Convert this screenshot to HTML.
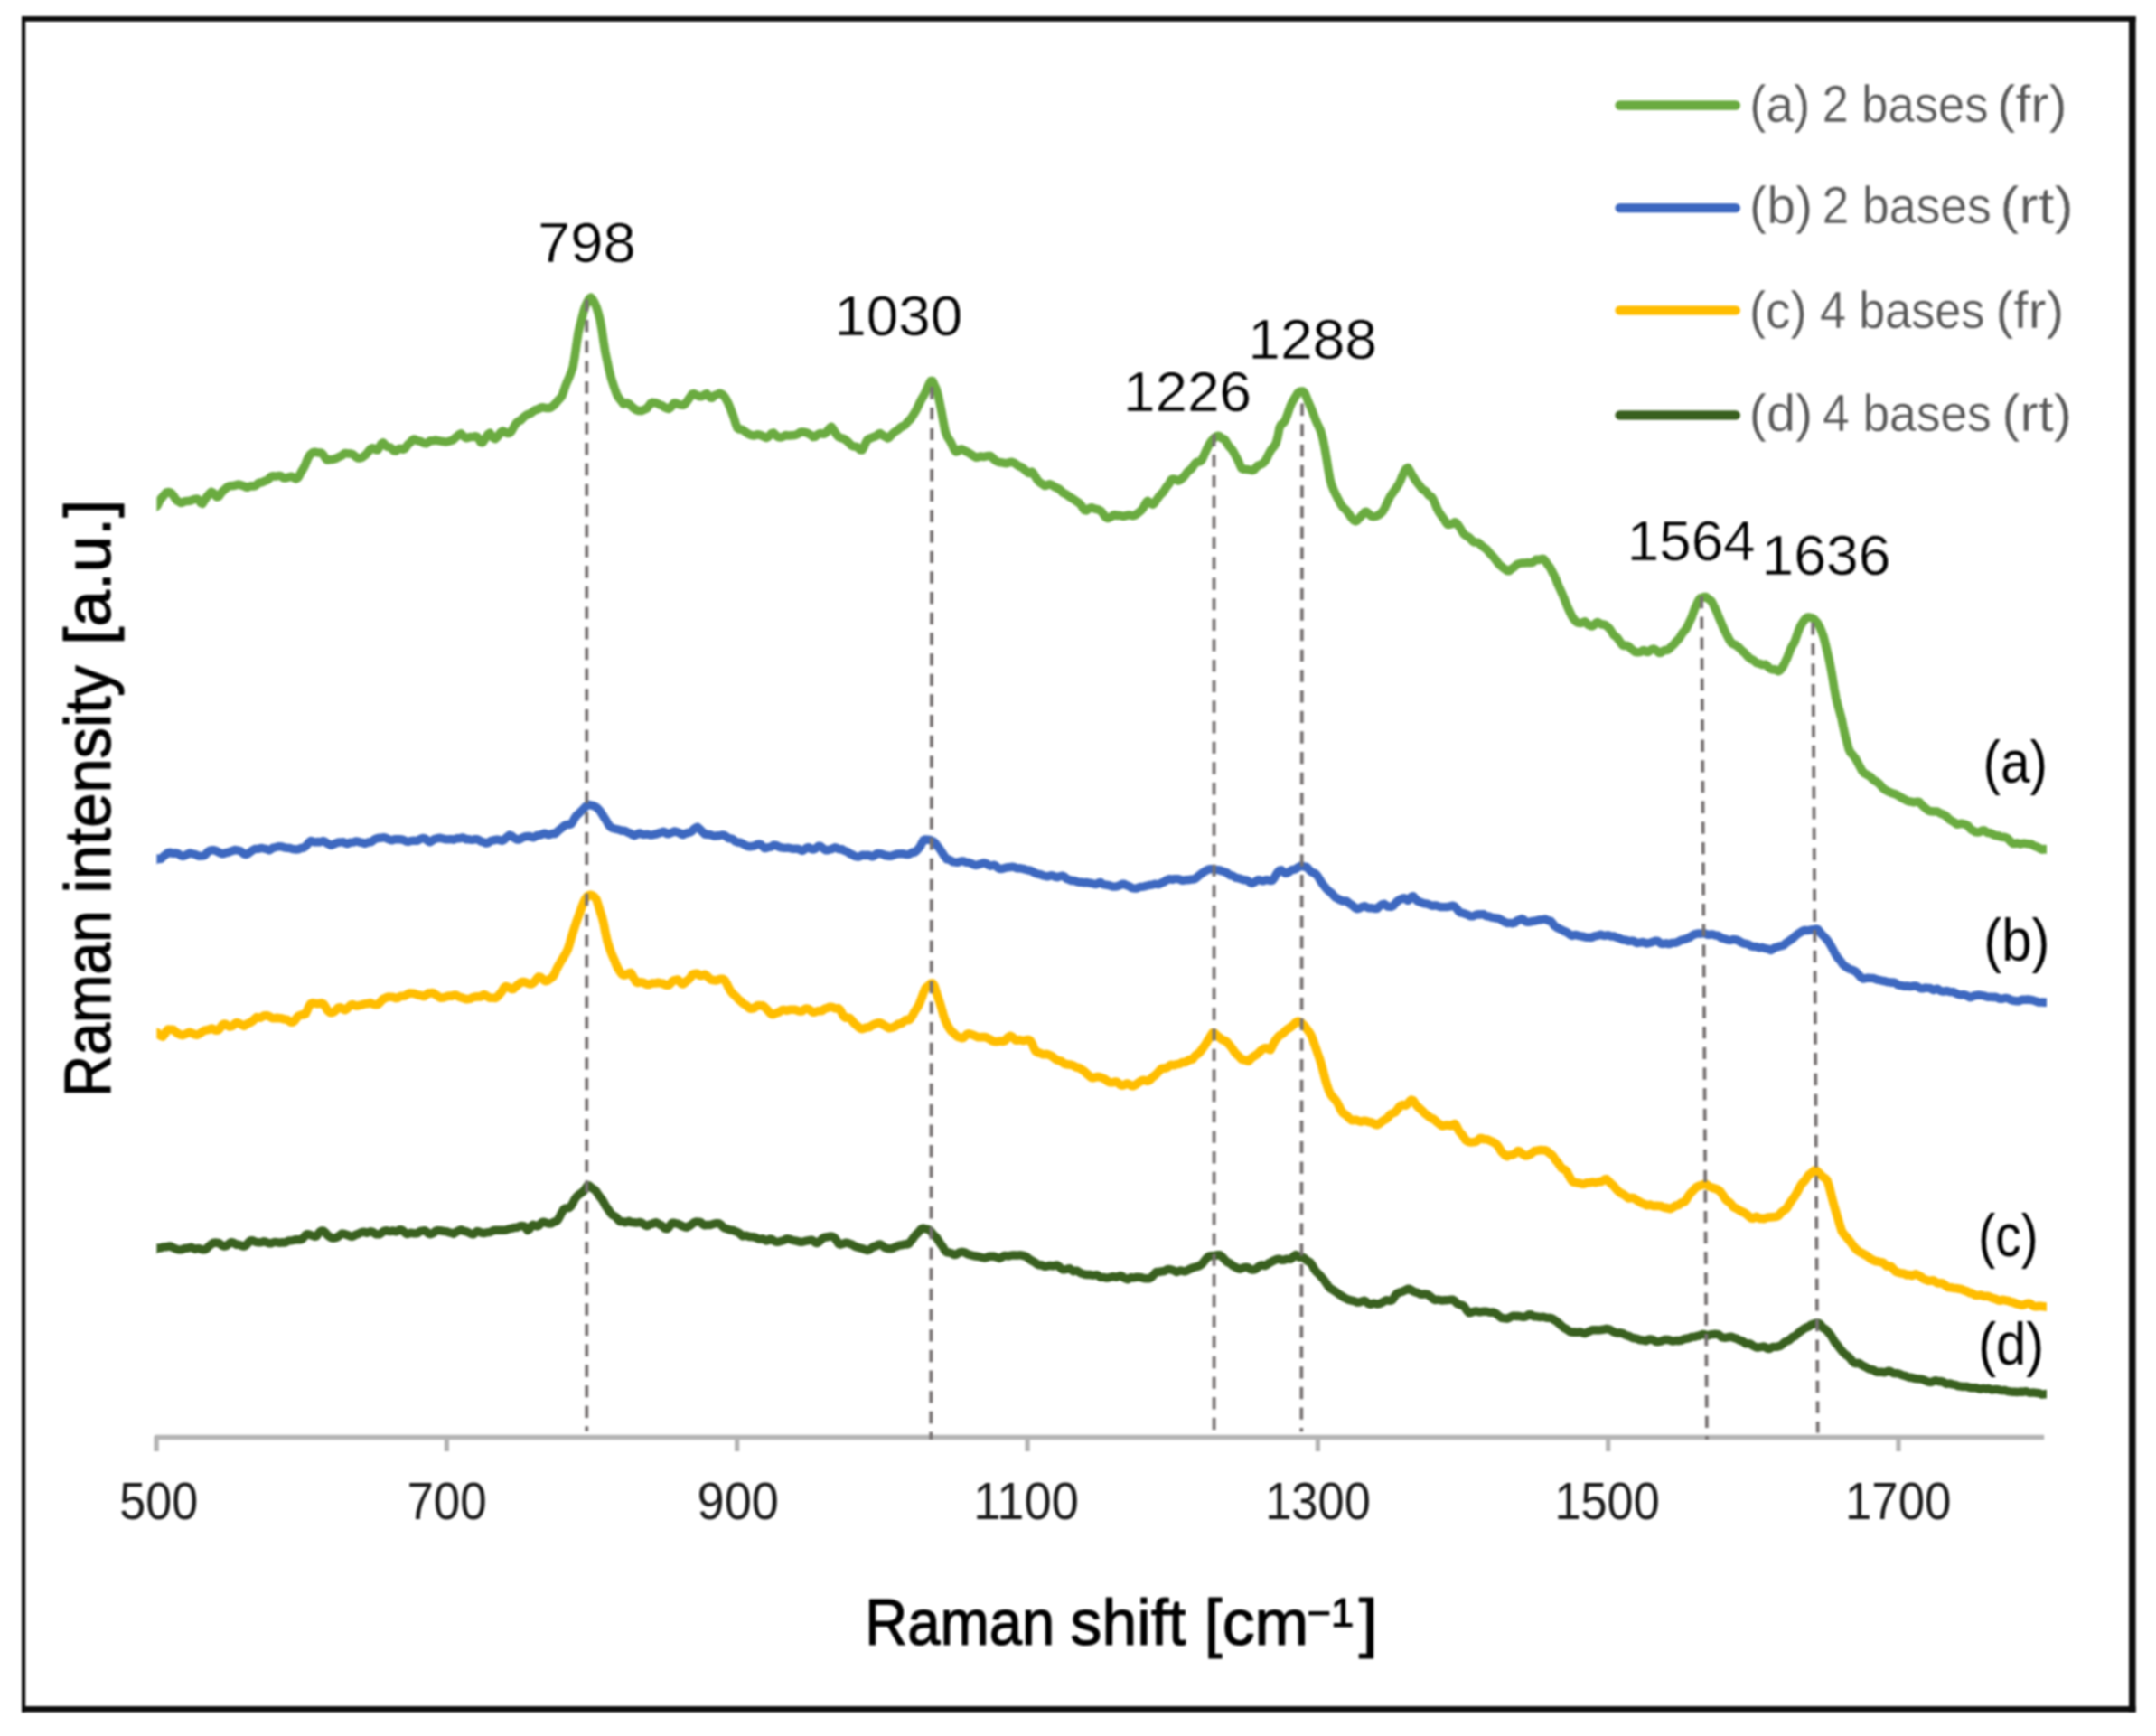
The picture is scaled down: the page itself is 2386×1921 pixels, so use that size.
<!DOCTYPE html>
<html lang="en"><head><meta charset="utf-8"><title>Raman spectra</title>
<style>
html,body{margin:0;padding:0;background:#fff;}
body{width:2386px;height:1921px;overflow:hidden;}
svg{display:block;filter:blur(1px);}
text{font-family:"Liberation Sans", Arial, Helvetica, sans-serif;}
</style></head><body>
<svg width="2386" height="1921" viewBox="0 0 2386 1921">
<rect x="0" y="0" width="2386" height="1921" fill="#ffffff"/>
<defs><clipPath id="plot"><rect x="173.4" y="200" width="2091.6" height="1385"/></clipPath></defs>

<g fill="#0c0c0c">
<rect x="24" y="18" width="2339.6" height="5.8"/>
<rect x="24" y="1888" width="2339.6" height="6.6"/>
<rect x="24" y="18" width="4.2" height="1876.6"/>
<rect x="2356" y="18" width="7.6" height="1876.6"/>
</g>
<g stroke="#b4b4b4" fill="none">
<path d="M173.1,1606 L173.1,1590.5 L2262.2,1590.5" stroke-width="5.4" stroke-linejoin="round"/>
<line x1="494.4" y1="1590" x2="494.4" y2="1606" stroke-width="5.2"/>
<line x1="815.7" y1="1590" x2="815.7" y2="1606" stroke-width="5.2"/>
<line x1="1137.1" y1="1590" x2="1137.1" y2="1606" stroke-width="5.2"/>
<line x1="1458.4" y1="1590" x2="1458.4" y2="1606" stroke-width="5.2"/>
<line x1="1779.7" y1="1590" x2="1779.7" y2="1606" stroke-width="5.2"/>
<line x1="2101.0" y1="1590" x2="2101.0" y2="1606" stroke-width="5.2"/>
</g>
<g clip-path="url(#plot)" fill="none" stroke-linejoin="round" stroke-linecap="butt">
<path d="M168.0,1385.8 L174.0,1380.8 L176.0,1381.2 L178.0,1380.9 L180.0,1380.0 L182.0,1379.9 L184.0,1379.8 L186.0,1379.3 L188.0,1378.9 L190.0,1379.7 L192.0,1380.8 L194.0,1381.7 L196.0,1382.5 L198.0,1382.9 L200.0,1382.9 L202.0,1382.5 L204.0,1381.5 L206.0,1381.1 L208.0,1381.2 L210.0,1380.4 L212.0,1380.3 L214.0,1381.6 L216.0,1382.2 L218.0,1381.6 L220.0,1381.5 L222.0,1382.2 L224.0,1382.8 L226.0,1382.9 L228.0,1382.3 L230.0,1380.2 L232.0,1378.3 L234.0,1376.7 L236.0,1375.4 L238.0,1375.0 L240.0,1375.3 L242.0,1375.4 L244.0,1376.8 L246.0,1378.4 L248.0,1379.1 L250.0,1378.7 L252.0,1377.4 L254.0,1375.8 L256.0,1374.6 L258.0,1375.0 L260.0,1376.3 L262.0,1377.4 L264.0,1377.3 L266.0,1377.9 L268.0,1378.8 L270.0,1379.1 L272.0,1378.2 L274.0,1376.1 L276.0,1373.8 L278.0,1372.6 L280.0,1372.9 L282.0,1374.0 L284.0,1374.6 L286.0,1374.7 L288.0,1374.9 L290.0,1374.5 L292.0,1373.8 L294.0,1374.2 L296.0,1375.1 L298.0,1375.8 L300.0,1375.8 L302.0,1375.0 L304.0,1374.5 L306.0,1374.6 L308.0,1375.0 L310.0,1375.2 L312.0,1374.8 L314.0,1375.0 L316.0,1374.8 L318.0,1373.7 L320.0,1372.9 L322.0,1372.9 L324.0,1372.5 L326.0,1372.0 L328.0,1371.8 L330.0,1371.8 L332.0,1371.8 L334.0,1371.4 L336.0,1369.4 L338.0,1366.8 L340.0,1365.6 L342.0,1366.1 L344.0,1366.7 L346.0,1367.4 L348.0,1368.2 L350.0,1368.1 L352.0,1365.6 L354.0,1363.0 L356.0,1361.9 L358.0,1362.2 L360.0,1363.8 L362.0,1366.2 L364.0,1368.0 L366.0,1369.3 L368.0,1370.1 L370.0,1370.1 L372.0,1369.5 L374.0,1368.5 L376.0,1366.9 L378.0,1365.3 L380.0,1365.1 L382.0,1365.8 L384.0,1366.4 L386.0,1367.3 L388.0,1368.0 L390.0,1368.3 L392.0,1367.3 L394.0,1366.2 L396.0,1365.6 L398.0,1364.5 L400.0,1363.7 L402.0,1363.3 L404.0,1363.5 L406.0,1364.2 L408.0,1363.6 L410.0,1362.8 L412.0,1363.1 L414.0,1364.3 L416.0,1365.7 L418.0,1365.9 L420.0,1365.7 L422.0,1364.5 L424.0,1362.8 L426.0,1361.9 L428.0,1361.8 L430.0,1362.4 L432.0,1362.6 L434.0,1362.0 L436.0,1362.2 L438.0,1362.9 L440.0,1362.3 L442.0,1361.0 L444.0,1360.8 L446.0,1361.9 L448.0,1363.8 L450.0,1365.5 L452.0,1365.2 L454.0,1364.3 L456.0,1364.4 L458.0,1364.8 L460.0,1364.9 L462.0,1364.6 L464.0,1363.2 L466.0,1362.1 L468.0,1361.9 L470.0,1361.6 L472.0,1362.9 L474.0,1364.9 L476.0,1365.7 L478.0,1365.2 L480.0,1364.1 L482.0,1362.4 L484.0,1361.5 L486.0,1361.6 L488.0,1361.8 L490.0,1362.2 L492.0,1362.5 L494.0,1362.6 L496.0,1363.4 L498.0,1364.0 L500.0,1364.6 L502.0,1365.2 L504.0,1363.8 L506.0,1362.6 L508.0,1361.6 L510.0,1360.7 L512.0,1361.5 L514.0,1362.4 L516.0,1362.7 L518.0,1363.6 L520.0,1364.6 L522.0,1365.6 L524.0,1365.8 L526.0,1364.2 L528.0,1362.5 L530.0,1362.9 L532.0,1363.9 L534.0,1364.3 L536.0,1364.5 L538.0,1364.0 L540.0,1363.6 L542.0,1363.5 L544.0,1362.7 L546.0,1361.6 L548.0,1361.2 L550.0,1361.3 L552.0,1361.3 L554.0,1361.3 L556.0,1361.1 L558.0,1361.2 L560.0,1361.1 L562.0,1360.2 L564.0,1359.7 L566.0,1359.4 L568.0,1358.8 L570.0,1358.4 L572.0,1358.3 L574.0,1357.5 L576.0,1356.6 L578.0,1356.5 L580.0,1356.9 L582.0,1359.0 L584.0,1361.4 L586.0,1360.1 L588.0,1356.7 L590.0,1355.2 L592.0,1356.1 L594.0,1356.9 L596.0,1356.4 L598.0,1354.4 L600.0,1352.5 L602.0,1352.2 L604.0,1352.9 L606.0,1353.6 L608.0,1354.0 L610.0,1353.9 L612.0,1352.8 L614.0,1351.8 L616.0,1351.3 L618.0,1348.9 L620.0,1345.0 L622.0,1341.2 L624.0,1337.9 L626.0,1336.9 L628.0,1336.9 L630.0,1336.4 L632.0,1334.5 L634.0,1331.1 L636.0,1327.2 L638.0,1324.3 L640.0,1322.4 L642.0,1321.0 L644.0,1319.5 L646.0,1317.9 L648.0,1315.1 L650.0,1312.0 L652.0,1312.0 L654.0,1313.8 L656.0,1315.3 L658.0,1316.4 L660.0,1318.7 L662.0,1321.8 L664.0,1324.6 L666.0,1327.0 L668.0,1330.1 L670.0,1334.0 L672.0,1336.9 L674.0,1339.6 L676.0,1342.7 L678.0,1344.6 L680.0,1345.6 L682.0,1346.9 L684.0,1349.6 L686.0,1351.5 L688.0,1351.5 L690.0,1351.9 L692.0,1352.8 L694.0,1351.9 L696.0,1351.3 L698.0,1352.3 L700.0,1352.6 L702.0,1352.7 L704.0,1353.1 L706.0,1352.9 L708.0,1352.4 L710.0,1353.0 L712.0,1354.4 L714.0,1355.7 L716.0,1356.6 L718.0,1355.8 L720.0,1354.6 L722.0,1354.3 L724.0,1353.3 L726.0,1352.7 L728.0,1353.8 L730.0,1355.0 L732.0,1356.0 L734.0,1357.6 L736.0,1359.4 L738.0,1359.8 L740.0,1358.4 L742.0,1355.4 L744.0,1353.1 L746.0,1353.1 L748.0,1353.9 L750.0,1354.2 L752.0,1355.0 L754.0,1356.3 L756.0,1357.0 L758.0,1357.8 L760.0,1358.2 L762.0,1357.1 L764.0,1355.9 L766.0,1354.5 L768.0,1352.8 L770.0,1352.0 L772.0,1352.1 L774.0,1352.1 L776.0,1352.9 L778.0,1355.0 L780.0,1355.9 L782.0,1355.5 L784.0,1355.5 L786.0,1355.6 L788.0,1354.9 L790.0,1354.2 L792.0,1353.7 L794.0,1353.7 L796.0,1354.0 L798.0,1355.4 L800.0,1357.6 L802.0,1359.0 L804.0,1359.6 L806.0,1360.3 L808.0,1361.0 L810.0,1361.1 L812.0,1361.6 L814.0,1362.6 L816.0,1363.4 L818.0,1364.4 L820.0,1366.4 L822.0,1367.8 L824.0,1367.5 L826.0,1367.3 L828.0,1368.1 L830.0,1368.6 L832.0,1368.6 L834.0,1368.9 L836.0,1369.4 L838.0,1370.3 L840.0,1371.1 L842.0,1371.0 L844.0,1370.8 L846.0,1371.8 L848.0,1373.1 L850.0,1372.5 L852.0,1370.9 L854.0,1371.3 L856.0,1372.7 L858.0,1373.8 L860.0,1374.4 L862.0,1374.1 L864.0,1373.4 L866.0,1373.0 L868.0,1372.2 L870.0,1371.0 L872.0,1370.7 L874.0,1371.2 L876.0,1372.0 L878.0,1372.5 L880.0,1372.9 L882.0,1373.3 L884.0,1373.9 L886.0,1374.3 L888.0,1374.3 L890.0,1373.8 L892.0,1373.1 L894.0,1372.8 L896.0,1372.5 L898.0,1372.1 L900.0,1373.0 L902.0,1374.8 L904.0,1375.6 L906.0,1374.6 L908.0,1372.7 L910.0,1370.7 L912.0,1369.4 L914.0,1369.0 L916.0,1368.8 L918.0,1368.3 L920.0,1368.1 L922.0,1368.5 L924.0,1370.2 L926.0,1373.2 L928.0,1376.3 L930.0,1377.1 L932.0,1376.3 L934.0,1376.0 L936.0,1375.2 L938.0,1375.4 L940.0,1376.2 L942.0,1376.7 L944.0,1377.8 L946.0,1379.1 L948.0,1379.9 L950.0,1380.4 L952.0,1381.0 L954.0,1381.6 L956.0,1382.2 L958.0,1382.9 L960.0,1383.5 L962.0,1383.0 L964.0,1381.4 L966.0,1379.9 L968.0,1379.4 L970.0,1378.6 L972.0,1377.3 L974.0,1376.9 L976.0,1378.0 L978.0,1379.7 L980.0,1380.9 L982.0,1381.5 L984.0,1381.7 L986.0,1381.8 L988.0,1381.4 L990.0,1380.1 L992.0,1379.4 L994.0,1378.6 L996.0,1377.9 L998.0,1377.8 L1000.0,1377.2 L1002.0,1376.8 L1004.0,1377.0 L1006.0,1376.1 L1008.0,1373.5 L1010.0,1371.1 L1012.0,1368.2 L1014.0,1365.8 L1016.0,1364.1 L1018.0,1361.6 L1020.0,1359.6 L1022.0,1359.2 L1024.0,1359.8 L1026.0,1360.1 L1028.0,1360.7 L1030.0,1362.5 L1032.0,1365.1 L1034.0,1367.3 L1036.0,1369.0 L1038.0,1371.8 L1040.0,1375.2 L1042.0,1377.8 L1044.0,1380.7 L1046.0,1384.3 L1048.0,1385.9 L1050.0,1386.0 L1052.0,1386.5 L1054.0,1387.4 L1056.0,1388.5 L1058.0,1388.4 L1060.0,1387.0 L1062.0,1385.8 L1064.0,1385.5 L1066.0,1385.5 L1068.0,1386.0 L1070.0,1387.3 L1072.0,1388.1 L1074.0,1388.6 L1076.0,1389.3 L1078.0,1389.8 L1080.0,1390.0 L1082.0,1390.3 L1084.0,1390.8 L1086.0,1391.3 L1088.0,1391.7 L1090.0,1392.0 L1092.0,1391.5 L1094.0,1390.5 L1096.0,1390.2 L1098.0,1390.2 L1100.0,1390.3 L1102.0,1390.9 L1104.0,1391.7 L1106.0,1392.5 L1108.0,1391.7 L1110.0,1390.2 L1112.0,1389.4 L1114.0,1389.6 L1116.0,1389.9 L1118.0,1389.4 L1120.0,1389.0 L1122.0,1388.9 L1124.0,1389.0 L1126.0,1389.1 L1128.0,1388.8 L1130.0,1388.9 L1132.0,1389.4 L1134.0,1389.9 L1136.0,1390.7 L1138.0,1392.3 L1140.0,1393.9 L1142.0,1395.1 L1144.0,1396.2 L1146.0,1397.4 L1148.0,1399.0 L1150.0,1399.8 L1152.0,1399.8 L1154.0,1400.5 L1156.0,1401.2 L1158.0,1401.2 L1160.0,1400.7 L1162.0,1400.4 L1164.0,1400.7 L1166.0,1400.8 L1168.0,1400.2 L1170.0,1400.0 L1172.0,1401.5 L1174.0,1403.4 L1176.0,1404.7 L1178.0,1404.9 L1180.0,1404.5 L1182.0,1404.0 L1184.0,1403.8 L1186.0,1405.4 L1188.0,1406.7 L1190.0,1406.2 L1192.0,1406.3 L1194.0,1407.6 L1196.0,1408.7 L1198.0,1409.4 L1200.0,1410.1 L1202.0,1410.5 L1204.0,1410.5 L1206.0,1410.5 L1208.0,1410.8 L1210.0,1411.1 L1212.0,1410.9 L1214.0,1410.6 L1216.0,1411.9 L1218.0,1413.4 L1220.0,1413.4 L1222.0,1413.4 L1224.0,1414.1 L1226.0,1414.1 L1228.0,1413.5 L1230.0,1412.9 L1232.0,1412.5 L1234.0,1413.0 L1236.0,1413.2 L1238.0,1412.4 L1240.0,1411.6 L1242.0,1412.4 L1244.0,1414.1 L1246.0,1415.1 L1248.0,1415.7 L1250.0,1414.4 L1252.0,1413.5 L1254.0,1414.0 L1256.0,1413.6 L1258.0,1413.1 L1260.0,1413.2 L1262.0,1413.4 L1264.0,1413.9 L1266.0,1414.6 L1268.0,1414.8 L1270.0,1414.8 L1272.0,1414.8 L1274.0,1413.5 L1276.0,1411.6 L1278.0,1409.1 L1280.0,1407.4 L1282.0,1407.5 L1284.0,1407.3 L1286.0,1406.7 L1288.0,1406.7 L1290.0,1405.8 L1292.0,1404.6 L1294.0,1404.5 L1296.0,1404.9 L1298.0,1405.5 L1300.0,1406.3 L1302.0,1407.6 L1304.0,1406.9 L1306.0,1405.9 L1308.0,1406.2 L1310.0,1406.7 L1312.0,1406.7 L1314.0,1405.8 L1316.0,1404.7 L1318.0,1403.7 L1320.0,1402.9 L1322.0,1402.3 L1324.0,1401.8 L1326.0,1401.1 L1328.0,1400.3 L1330.0,1398.8 L1332.0,1396.5 L1334.0,1394.0 L1336.0,1391.6 L1338.0,1390.2 L1340.0,1389.8 L1342.0,1389.6 L1344.0,1389.5 L1346.0,1389.1 L1348.0,1388.6 L1350.0,1388.7 L1352.0,1390.2 L1354.0,1392.3 L1356.0,1394.5 L1358.0,1396.5 L1360.0,1397.4 L1362.0,1398.5 L1364.0,1400.4 L1366.0,1401.5 L1368.0,1402.5 L1370.0,1403.7 L1372.0,1404.2 L1374.0,1403.6 L1376.0,1402.7 L1378.0,1402.2 L1380.0,1402.1 L1382.0,1403.2 L1384.0,1404.7 L1386.0,1405.0 L1388.0,1405.0 L1390.0,1404.1 L1392.0,1402.2 L1394.0,1400.7 L1396.0,1400.0 L1398.0,1400.2 L1400.0,1400.6 L1402.0,1399.6 L1404.0,1397.9 L1406.0,1397.0 L1408.0,1395.8 L1410.0,1394.8 L1412.0,1393.9 L1414.0,1393.1 L1416.0,1393.3 L1418.0,1394.2 L1420.0,1394.4 L1422.0,1393.9 L1424.0,1393.1 L1426.0,1393.1 L1428.0,1393.3 L1430.0,1392.2 L1432.0,1389.9 L1434.0,1388.5 L1436.0,1389.8 L1438.0,1391.4 L1440.0,1391.3 L1442.0,1391.3 L1444.0,1392.8 L1446.0,1394.7 L1448.0,1395.9 L1450.0,1397.1 L1452.0,1399.8 L1454.0,1403.4 L1456.0,1406.6 L1458.0,1408.4 L1460.0,1410.3 L1462.0,1412.7 L1464.0,1414.9 L1466.0,1417.4 L1468.0,1420.4 L1470.0,1423.3 L1472.0,1425.5 L1474.0,1426.8 L1476.0,1428.0 L1478.0,1429.3 L1480.0,1430.8 L1482.0,1432.3 L1484.0,1433.5 L1486.0,1434.9 L1488.0,1436.1 L1490.0,1437.1 L1492.0,1438.1 L1494.0,1438.6 L1496.0,1439.2 L1498.0,1439.6 L1500.0,1440.2 L1502.0,1441.1 L1504.0,1441.0 L1506.0,1440.4 L1508.0,1439.8 L1510.0,1439.3 L1512.0,1440.4 L1514.0,1442.3 L1516.0,1443.2 L1518.0,1443.0 L1520.0,1442.2 L1522.0,1442.4 L1524.0,1443.0 L1526.0,1442.8 L1528.0,1442.0 L1530.0,1441.0 L1532.0,1439.7 L1534.0,1438.8 L1536.0,1439.0 L1538.0,1439.4 L1540.0,1439.0 L1542.0,1437.1 L1544.0,1433.7 L1546.0,1431.4 L1548.0,1430.5 L1550.0,1429.8 L1552.0,1429.2 L1554.0,1428.3 L1556.0,1427.4 L1558.0,1426.2 L1560.0,1426.4 L1562.0,1427.8 L1564.0,1428.8 L1566.0,1429.7 L1568.0,1430.3 L1570.0,1431.0 L1572.0,1432.1 L1574.0,1432.2 L1576.0,1432.0 L1578.0,1432.0 L1580.0,1432.4 L1582.0,1433.9 L1584.0,1435.6 L1586.0,1437.3 L1588.0,1438.6 L1590.0,1438.4 L1592.0,1438.2 L1594.0,1438.7 L1596.0,1439.1 L1598.0,1438.8 L1600.0,1438.7 L1602.0,1438.6 L1604.0,1438.4 L1606.0,1438.2 L1608.0,1438.3 L1610.0,1439.7 L1612.0,1442.0 L1614.0,1443.2 L1616.0,1443.8 L1618.0,1444.2 L1620.0,1445.3 L1622.0,1448.2 L1624.0,1450.9 L1626.0,1452.9 L1628.0,1452.4 L1630.0,1451.6 L1632.0,1451.2 L1634.0,1450.9 L1636.0,1451.5 L1638.0,1451.8 L1640.0,1451.4 L1642.0,1451.2 L1644.0,1451.2 L1646.0,1451.4 L1648.0,1452.1 L1650.0,1452.3 L1652.0,1452.0 L1654.0,1452.6 L1656.0,1453.8 L1658.0,1455.5 L1660.0,1457.2 L1662.0,1458.4 L1664.0,1458.7 L1666.0,1458.9 L1668.0,1459.2 L1670.0,1458.4 L1672.0,1457.2 L1674.0,1456.3 L1676.0,1456.3 L1678.0,1456.5 L1680.0,1456.3 L1682.0,1456.7 L1684.0,1457.1 L1686.0,1457.3 L1688.0,1457.0 L1690.0,1456.1 L1692.0,1454.7 L1694.0,1454.6 L1696.0,1456.1 L1698.0,1456.8 L1700.0,1456.8 L1702.0,1457.1 L1704.0,1457.5 L1706.0,1457.4 L1708.0,1457.3 L1710.0,1457.8 L1712.0,1458.2 L1714.0,1458.4 L1716.0,1458.5 L1718.0,1459.2 L1720.0,1460.5 L1722.0,1461.8 L1724.0,1463.4 L1726.0,1465.1 L1728.0,1467.0 L1730.0,1468.8 L1732.0,1469.9 L1734.0,1471.1 L1736.0,1472.6 L1738.0,1473.9 L1740.0,1474.2 L1742.0,1474.0 L1744.0,1474.2 L1746.0,1474.3 L1748.0,1473.9 L1750.0,1474.2 L1752.0,1475.2 L1754.0,1475.6 L1756.0,1474.5 L1758.0,1473.6 L1760.0,1472.7 L1762.0,1471.8 L1764.0,1471.8 L1766.0,1471.8 L1768.0,1471.8 L1770.0,1471.9 L1772.0,1471.5 L1774.0,1471.3 L1776.0,1470.9 L1778.0,1470.4 L1780.0,1470.8 L1782.0,1471.5 L1784.0,1472.7 L1786.0,1473.9 L1788.0,1474.8 L1790.0,1475.0 L1792.0,1474.8 L1794.0,1475.0 L1796.0,1475.6 L1798.0,1476.8 L1800.0,1477.7 L1802.0,1478.3 L1804.0,1479.0 L1806.0,1480.1 L1808.0,1480.8 L1810.0,1480.9 L1812.0,1481.5 L1814.0,1482.4 L1816.0,1482.9 L1818.0,1483.0 L1820.0,1483.5 L1822.0,1483.7 L1824.0,1482.3 L1826.0,1482.0 L1828.0,1482.2 L1830.0,1482.7 L1832.0,1484.2 L1834.0,1484.9 L1836.0,1484.5 L1838.0,1484.2 L1840.0,1483.3 L1842.0,1482.5 L1844.0,1482.5 L1846.0,1482.5 L1848.0,1483.1 L1850.0,1483.8 L1852.0,1484.0 L1854.0,1483.6 L1856.0,1483.5 L1858.0,1483.7 L1860.0,1483.4 L1862.0,1482.5 L1864.0,1481.8 L1866.0,1481.2 L1868.0,1481.0 L1870.0,1480.5 L1872.0,1479.5 L1874.0,1479.4 L1876.0,1479.1 L1878.0,1478.4 L1880.0,1478.1 L1882.0,1477.3 L1884.0,1476.5 L1886.0,1476.5 L1888.0,1477.4 L1890.0,1478.0 L1892.0,1477.2 L1894.0,1476.6 L1896.0,1476.5 L1898.0,1476.3 L1900.0,1476.4 L1902.0,1476.8 L1904.0,1478.4 L1906.0,1479.9 L1908.0,1480.2 L1910.0,1480.2 L1912.0,1479.9 L1914.0,1479.4 L1916.0,1479.3 L1918.0,1480.0 L1920.0,1480.7 L1922.0,1481.3 L1924.0,1482.5 L1926.0,1483.4 L1928.0,1483.8 L1930.0,1485.1 L1932.0,1486.8 L1934.0,1486.9 L1936.0,1486.6 L1938.0,1487.7 L1940.0,1489.1 L1942.0,1490.1 L1944.0,1491.1 L1946.0,1491.0 L1948.0,1490.6 L1950.0,1490.3 L1952.0,1490.0 L1954.0,1490.9 L1956.0,1492.2 L1958.0,1492.5 L1960.0,1491.5 L1962.0,1490.4 L1964.0,1490.4 L1966.0,1490.4 L1968.0,1489.8 L1970.0,1489.4 L1972.0,1488.0 L1974.0,1486.1 L1976.0,1484.7 L1978.0,1483.9 L1980.0,1483.0 L1982.0,1481.1 L1984.0,1479.5 L1986.0,1478.8 L1988.0,1477.2 L1990.0,1475.2 L1992.0,1473.6 L1994.0,1472.2 L1996.0,1470.7 L1998.0,1469.4 L2000.0,1468.7 L2002.0,1467.8 L2004.0,1466.1 L2006.0,1465.4 L2008.0,1464.9 L2010.0,1464.0 L2012.0,1463.9 L2014.0,1465.0 L2016.0,1467.5 L2018.0,1469.8 L2020.0,1470.8 L2022.0,1472.6 L2024.0,1475.2 L2026.0,1477.4 L2028.0,1480.7 L2030.0,1484.2 L2032.0,1486.7 L2034.0,1489.1 L2036.0,1491.9 L2038.0,1494.4 L2040.0,1496.7 L2042.0,1498.5 L2044.0,1500.1 L2046.0,1501.6 L2048.0,1503.7 L2050.0,1506.3 L2052.0,1508.2 L2054.0,1508.7 L2056.0,1508.2 L2058.0,1508.8 L2060.0,1510.3 L2062.0,1511.4 L2064.0,1512.4 L2066.0,1513.5 L2068.0,1514.6 L2070.0,1515.3 L2072.0,1515.5 L2074.0,1516.4 L2076.0,1517.8 L2078.0,1518.4 L2080.0,1518.2 L2082.0,1518.2 L2084.0,1518.5 L2086.0,1518.7 L2088.0,1517.9 L2090.0,1517.1 L2092.0,1517.6 L2094.0,1518.7 L2096.0,1519.6 L2098.0,1519.7 L2100.0,1519.8 L2102.0,1520.3 L2104.0,1521.2 L2106.0,1522.0 L2108.0,1522.4 L2110.0,1523.2 L2112.0,1524.0 L2114.0,1524.2 L2116.0,1524.6 L2118.0,1525.2 L2120.0,1525.6 L2122.0,1525.8 L2124.0,1525.9 L2126.0,1526.2 L2128.0,1526.5 L2130.0,1527.3 L2132.0,1528.4 L2134.0,1529.1 L2136.0,1529.5 L2138.0,1529.2 L2140.0,1528.3 L2142.0,1527.8 L2144.0,1528.2 L2146.0,1528.7 L2148.0,1528.5 L2150.0,1529.0 L2152.0,1530.3 L2154.0,1531.3 L2156.0,1531.1 L2158.0,1531.0 L2160.0,1531.7 L2162.0,1532.1 L2164.0,1532.4 L2166.0,1533.4 L2168.0,1533.9 L2170.0,1534.1 L2172.0,1534.5 L2174.0,1534.4 L2176.0,1534.4 L2178.0,1534.9 L2180.0,1535.5 L2182.0,1535.7 L2184.0,1535.7 L2186.0,1535.8 L2188.0,1536.0 L2190.0,1536.9 L2192.0,1537.2 L2194.0,1536.4 L2196.0,1536.5 L2198.0,1537.1 L2200.0,1536.4 L2202.0,1536.8 L2204.0,1537.9 L2206.0,1537.7 L2208.0,1537.4 L2210.0,1537.5 L2212.0,1537.8 L2214.0,1538.4 L2216.0,1538.6 L2218.0,1538.4 L2220.0,1538.9 L2222.0,1539.6 L2224.0,1539.8 L2226.0,1540.1 L2228.0,1540.3 L2230.0,1540.2 L2232.0,1540.5 L2234.0,1540.4 L2236.0,1540.0 L2238.0,1540.3 L2240.0,1540.0 L2242.0,1539.6 L2244.0,1540.4 L2246.0,1541.1 L2248.0,1541.1 L2250.0,1541.0 L2252.0,1541.1 L2254.0,1541.5 L2256.0,1541.6 L2258.0,1542.2 L2260.0,1543.1 L2262.0,1542.9 L2264.0,1542.5 L2266.0,1542.8 L2268.0,1543.3 L2274.0,1543.3" stroke="#39601f" stroke-width="9.4"/>
<path d="M168.0,1147.6 L174.0,1142.6 L176.0,1144.7 L178.0,1146.3 L180.0,1147.1 L182.0,1144.7 L184.0,1141.3 L186.0,1139.1 L188.0,1139.4 L190.0,1139.4 L192.0,1139.6 L194.0,1141.3 L196.0,1143.1 L198.0,1144.1 L200.0,1145.1 L202.0,1145.4 L204.0,1144.7 L206.0,1144.0 L208.0,1142.8 L210.0,1142.2 L212.0,1143.1 L214.0,1144.0 L216.0,1144.9 L218.0,1145.3 L220.0,1144.3 L222.0,1143.1 L224.0,1141.6 L226.0,1140.4 L228.0,1139.9 L230.0,1139.6 L232.0,1139.0 L234.0,1138.1 L236.0,1138.7 L238.0,1140.0 L240.0,1140.2 L242.0,1139.6 L244.0,1137.1 L246.0,1134.3 L248.0,1133.0 L250.0,1133.4 L252.0,1135.0 L254.0,1136.0 L256.0,1135.6 L258.0,1134.6 L260.0,1132.6 L262.0,1131.5 L264.0,1132.3 L266.0,1133.1 L268.0,1134.2 L270.0,1135.2 L272.0,1134.1 L274.0,1132.7 L276.0,1131.9 L278.0,1130.9 L280.0,1129.5 L282.0,1127.3 L284.0,1125.6 L286.0,1126.0 L288.0,1126.3 L290.0,1125.3 L292.0,1124.0 L294.0,1123.7 L296.0,1123.9 L298.0,1124.7 L300.0,1125.9 L302.0,1126.8 L304.0,1126.8 L306.0,1126.4 L308.0,1126.6 L310.0,1126.8 L312.0,1127.1 L314.0,1127.8 L316.0,1128.1 L318.0,1128.5 L320.0,1130.0 L322.0,1131.2 L324.0,1131.2 L326.0,1129.5 L328.0,1126.9 L330.0,1124.5 L332.0,1123.5 L334.0,1122.9 L336.0,1122.8 L338.0,1122.0 L340.0,1118.0 L342.0,1113.4 L344.0,1110.5 L346.0,1109.9 L348.0,1110.2 L350.0,1110.6 L352.0,1110.7 L354.0,1110.3 L356.0,1110.0 L358.0,1111.0 L360.0,1114.0 L362.0,1117.4 L364.0,1119.6 L366.0,1120.6 L368.0,1120.5 L370.0,1119.3 L372.0,1117.6 L374.0,1115.4 L376.0,1114.7 L378.0,1115.5 L380.0,1117.0 L382.0,1117.6 L384.0,1116.2 L386.0,1114.3 L388.0,1112.2 L390.0,1111.5 L392.0,1112.2 L394.0,1113.0 L396.0,1113.0 L398.0,1112.4 L400.0,1112.0 L402.0,1111.5 L404.0,1110.8 L406.0,1110.7 L408.0,1110.3 L410.0,1109.9 L412.0,1110.8 L414.0,1111.5 L416.0,1111.7 L418.0,1111.4 L420.0,1109.8 L422.0,1107.5 L424.0,1105.6 L426.0,1104.6 L428.0,1103.7 L430.0,1103.1 L432.0,1103.2 L434.0,1103.3 L436.0,1103.7 L438.0,1104.6 L440.0,1104.3 L442.0,1103.1 L444.0,1102.2 L446.0,1102.2 L448.0,1102.0 L450.0,1100.7 L452.0,1099.4 L454.0,1099.0 L456.0,1099.3 L458.0,1099.4 L460.0,1100.0 L462.0,1100.9 L464.0,1101.1 L466.0,1101.5 L468.0,1102.4 L470.0,1102.4 L472.0,1100.7 L474.0,1099.1 L476.0,1099.1 L478.0,1098.6 L480.0,1099.2 L482.0,1100.7 L484.0,1101.8 L486.0,1103.4 L488.0,1104.3 L490.0,1104.0 L492.0,1103.5 L494.0,1102.9 L496.0,1102.1 L498.0,1102.0 L500.0,1102.3 L502.0,1101.3 L504.0,1101.0 L506.0,1101.9 L508.0,1103.0 L510.0,1103.7 L512.0,1104.3 L514.0,1105.1 L516.0,1105.7 L518.0,1105.6 L520.0,1105.3 L522.0,1104.4 L524.0,1103.4 L526.0,1103.1 L528.0,1102.9 L530.0,1102.9 L532.0,1102.9 L534.0,1101.4 L536.0,1100.5 L538.0,1101.7 L540.0,1103.1 L542.0,1104.1 L544.0,1104.3 L546.0,1104.3 L548.0,1104.4 L550.0,1103.4 L552.0,1101.1 L554.0,1098.8 L556.0,1096.1 L558.0,1092.8 L560.0,1091.4 L562.0,1092.2 L564.0,1093.2 L566.0,1094.4 L568.0,1094.5 L570.0,1092.6 L572.0,1090.7 L574.0,1089.2 L576.0,1087.5 L578.0,1086.6 L580.0,1086.5 L582.0,1087.2 L584.0,1088.0 L586.0,1088.8 L588.0,1089.0 L590.0,1087.7 L592.0,1085.8 L594.0,1083.1 L596.0,1080.9 L598.0,1081.2 L600.0,1082.8 L602.0,1084.6 L604.0,1085.6 L606.0,1085.1 L608.0,1083.6 L610.0,1082.2 L612.0,1080.6 L614.0,1077.1 L616.0,1072.3 L618.0,1068.6 L620.0,1065.1 L622.0,1061.8 L624.0,1058.6 L626.0,1055.1 L628.0,1051.4 L630.0,1045.6 L632.0,1038.5 L634.0,1032.0 L636.0,1025.7 L638.0,1019.9 L640.0,1014.4 L642.0,1008.9 L644.0,1003.3 L646.0,998.1 L648.0,994.2 L650.0,991.8 L652.0,990.7 L654.0,990.2 L656.0,991.2 L658.0,992.7 L660.0,995.2 L662.0,1001.3 L664.0,1007.9 L666.0,1013.9 L668.0,1021.6 L670.0,1031.8 L672.0,1041.0 L674.0,1047.4 L676.0,1053.2 L678.0,1058.2 L680.0,1062.6 L682.0,1067.6 L684.0,1071.8 L686.0,1075.0 L688.0,1077.7 L690.0,1079.0 L692.0,1078.9 L694.0,1078.1 L696.0,1077.0 L698.0,1076.5 L700.0,1079.8 L702.0,1083.4 L704.0,1086.6 L706.0,1087.5 L708.0,1086.9 L710.0,1087.0 L712.0,1087.5 L714.0,1088.4 L716.0,1089.4 L718.0,1089.5 L720.0,1088.8 L722.0,1088.0 L724.0,1088.0 L726.0,1088.0 L728.0,1087.3 L730.0,1087.7 L732.0,1088.2 L734.0,1088.4 L736.0,1089.6 L738.0,1090.3 L740.0,1090.0 L742.0,1088.3 L744.0,1086.0 L746.0,1084.8 L748.0,1084.5 L750.0,1084.0 L752.0,1085.9 L754.0,1088.2 L756.0,1089.0 L758.0,1087.5 L760.0,1085.4 L762.0,1084.2 L764.0,1081.8 L766.0,1078.8 L768.0,1077.7 L770.0,1077.4 L772.0,1077.6 L774.0,1079.1 L776.0,1079.8 L778.0,1078.8 L780.0,1078.3 L782.0,1079.5 L784.0,1081.6 L786.0,1083.5 L788.0,1084.5 L790.0,1084.6 L792.0,1084.9 L794.0,1084.6 L796.0,1083.7 L798.0,1083.2 L800.0,1083.4 L802.0,1084.6 L804.0,1087.9 L806.0,1092.1 L808.0,1095.8 L810.0,1098.5 L812.0,1100.5 L814.0,1102.3 L816.0,1104.5 L818.0,1106.6 L820.0,1108.0 L822.0,1110.0 L824.0,1111.5 L826.0,1112.5 L828.0,1114.6 L830.0,1115.9 L832.0,1116.2 L834.0,1115.7 L836.0,1114.3 L838.0,1113.0 L840.0,1112.5 L842.0,1112.7 L844.0,1112.8 L846.0,1114.2 L848.0,1116.3 L850.0,1118.2 L852.0,1120.7 L854.0,1122.5 L856.0,1122.5 L858.0,1121.5 L860.0,1120.8 L862.0,1120.0 L864.0,1118.6 L866.0,1117.5 L868.0,1117.6 L870.0,1118.1 L872.0,1117.9 L874.0,1117.3 L876.0,1117.3 L878.0,1117.3 L880.0,1117.4 L882.0,1118.0 L884.0,1118.8 L886.0,1119.1 L888.0,1118.7 L890.0,1117.1 L892.0,1116.0 L894.0,1116.3 L896.0,1117.3 L898.0,1118.9 L900.0,1120.2 L902.0,1119.9 L904.0,1119.1 L906.0,1118.6 L908.0,1118.7 L910.0,1118.4 L912.0,1116.6 L914.0,1115.8 L916.0,1115.3 L918.0,1114.2 L920.0,1114.2 L922.0,1114.9 L924.0,1115.7 L926.0,1116.0 L928.0,1115.9 L930.0,1117.8 L932.0,1121.6 L934.0,1125.1 L936.0,1126.2 L938.0,1126.1 L940.0,1126.4 L942.0,1128.1 L944.0,1130.8 L946.0,1133.0 L948.0,1134.5 L950.0,1136.4 L952.0,1138.0 L954.0,1138.6 L956.0,1138.1 L958.0,1137.3 L960.0,1136.9 L962.0,1136.6 L964.0,1135.4 L966.0,1134.1 L968.0,1133.3 L970.0,1132.5 L972.0,1131.8 L974.0,1131.9 L976.0,1132.9 L978.0,1134.3 L980.0,1135.4 L982.0,1136.8 L984.0,1137.8 L986.0,1137.4 L988.0,1136.9 L990.0,1136.1 L992.0,1134.6 L994.0,1133.2 L996.0,1132.8 L998.0,1132.3 L1000.0,1130.5 L1002.0,1128.8 L1004.0,1128.6 L1006.0,1128.7 L1008.0,1126.6 L1010.0,1123.6 L1012.0,1119.7 L1014.0,1116.7 L1016.0,1113.7 L1018.0,1109.4 L1020.0,1104.3 L1022.0,1098.6 L1024.0,1094.0 L1026.0,1092.0 L1028.0,1090.4 L1030.0,1088.2 L1032.0,1088.0 L1034.0,1090.9 L1036.0,1097.3 L1038.0,1103.6 L1040.0,1109.2 L1042.0,1115.8 L1044.0,1122.9 L1046.0,1128.9 L1048.0,1133.4 L1050.0,1137.1 L1052.0,1140.0 L1054.0,1142.0 L1056.0,1143.6 L1058.0,1145.7 L1060.0,1147.3 L1062.0,1147.8 L1064.0,1148.6 L1066.0,1148.5 L1068.0,1146.7 L1070.0,1144.6 L1072.0,1143.9 L1074.0,1144.4 L1076.0,1145.0 L1078.0,1145.7 L1080.0,1146.7 L1082.0,1147.6 L1084.0,1147.8 L1086.0,1147.6 L1088.0,1147.5 L1090.0,1147.6 L1092.0,1148.2 L1094.0,1149.2 L1096.0,1150.3 L1098.0,1151.7 L1100.0,1152.4 L1102.0,1152.6 L1104.0,1152.6 L1106.0,1152.1 L1108.0,1152.1 L1110.0,1152.5 L1112.0,1151.8 L1114.0,1149.5 L1116.0,1147.5 L1118.0,1146.3 L1120.0,1147.1 L1122.0,1149.2 L1124.0,1151.2 L1126.0,1151.2 L1128.0,1150.6 L1130.0,1151.1 L1132.0,1151.6 L1134.0,1151.4 L1136.0,1150.7 L1138.0,1150.5 L1140.0,1151.4 L1142.0,1154.5 L1144.0,1159.2 L1146.0,1163.1 L1148.0,1164.5 L1150.0,1165.0 L1152.0,1165.7 L1154.0,1166.7 L1156.0,1166.8 L1158.0,1166.4 L1160.0,1166.9 L1162.0,1167.7 L1164.0,1168.8 L1166.0,1170.2 L1168.0,1172.0 L1170.0,1173.1 L1172.0,1173.6 L1174.0,1174.0 L1176.0,1175.7 L1178.0,1177.2 L1180.0,1177.5 L1182.0,1178.0 L1184.0,1178.1 L1186.0,1178.4 L1188.0,1179.3 L1190.0,1180.4 L1192.0,1181.3 L1194.0,1181.6 L1196.0,1182.7 L1198.0,1184.1 L1200.0,1185.5 L1202.0,1187.4 L1204.0,1189.3 L1206.0,1190.9 L1208.0,1192.5 L1210.0,1192.7 L1212.0,1192.1 L1214.0,1191.6 L1216.0,1191.5 L1218.0,1192.1 L1220.0,1192.9 L1222.0,1193.7 L1224.0,1195.0 L1226.0,1196.8 L1228.0,1197.6 L1230.0,1197.7 L1232.0,1197.6 L1234.0,1197.0 L1236.0,1197.3 L1238.0,1198.9 L1240.0,1200.6 L1242.0,1201.1 L1244.0,1200.7 L1246.0,1199.5 L1248.0,1199.0 L1250.0,1200.2 L1252.0,1201.4 L1254.0,1201.6 L1256.0,1200.9 L1258.0,1199.5 L1260.0,1198.0 L1262.0,1196.7 L1264.0,1195.5 L1266.0,1195.4 L1268.0,1195.8 L1270.0,1196.3 L1272.0,1195.5 L1274.0,1193.5 L1276.0,1191.6 L1278.0,1190.1 L1280.0,1188.3 L1282.0,1186.2 L1284.0,1183.9 L1286.0,1182.2 L1288.0,1182.1 L1290.0,1181.9 L1292.0,1181.2 L1294.0,1179.6 L1296.0,1178.3 L1298.0,1178.7 L1300.0,1178.6 L1302.0,1177.7 L1304.0,1177.5 L1306.0,1177.1 L1308.0,1175.8 L1310.0,1175.4 L1312.0,1175.4 L1314.0,1174.2 L1316.0,1172.8 L1318.0,1172.7 L1320.0,1171.8 L1322.0,1169.1 L1324.0,1167.1 L1326.0,1166.1 L1328.0,1164.1 L1330.0,1161.4 L1332.0,1158.6 L1334.0,1155.8 L1336.0,1152.5 L1338.0,1149.2 L1340.0,1146.0 L1342.0,1142.9 L1344.0,1143.1 L1346.0,1145.0 L1348.0,1146.8 L1350.0,1148.3 L1352.0,1150.0 L1354.0,1151.3 L1356.0,1151.7 L1358.0,1153.2 L1360.0,1155.6 L1362.0,1158.0 L1364.0,1160.8 L1366.0,1163.6 L1368.0,1166.2 L1370.0,1167.9 L1372.0,1169.9 L1374.0,1172.1 L1376.0,1172.8 L1378.0,1173.0 L1380.0,1174.0 L1382.0,1174.1 L1384.0,1171.8 L1386.0,1169.9 L1388.0,1168.8 L1390.0,1167.4 L1392.0,1166.0 L1394.0,1164.1 L1396.0,1161.9 L1398.0,1160.6 L1400.0,1159.8 L1402.0,1159.8 L1404.0,1161.1 L1406.0,1161.6 L1408.0,1158.0 L1410.0,1153.5 L1412.0,1150.4 L1414.0,1147.9 L1416.0,1145.9 L1418.0,1144.7 L1420.0,1143.4 L1422.0,1141.3 L1424.0,1139.4 L1426.0,1138.2 L1428.0,1136.7 L1430.0,1135.3 L1432.0,1133.5 L1434.0,1131.3 L1436.0,1130.4 L1438.0,1130.6 L1440.0,1131.7 L1442.0,1133.7 L1444.0,1135.7 L1446.0,1138.2 L1448.0,1141.0 L1450.0,1143.8 L1452.0,1147.8 L1454.0,1153.6 L1456.0,1159.2 L1458.0,1165.0 L1460.0,1170.6 L1462.0,1176.7 L1464.0,1184.3 L1466.0,1192.0 L1468.0,1199.1 L1470.0,1205.0 L1472.0,1209.8 L1474.0,1212.9 L1476.0,1215.1 L1478.0,1217.3 L1480.0,1220.2 L1482.0,1224.2 L1484.0,1228.3 L1486.0,1231.3 L1488.0,1232.7 L1490.0,1234.1 L1492.0,1236.1 L1494.0,1238.2 L1496.0,1239.7 L1498.0,1239.8 L1500.0,1239.2 L1502.0,1239.7 L1504.0,1240.7 L1506.0,1241.2 L1508.0,1240.6 L1510.0,1240.3 L1512.0,1240.6 L1514.0,1241.3 L1516.0,1241.7 L1518.0,1242.2 L1520.0,1243.1 L1522.0,1244.1 L1524.0,1244.8 L1526.0,1243.8 L1528.0,1242.1 L1530.0,1240.6 L1532.0,1239.2 L1534.0,1238.3 L1536.0,1236.6 L1538.0,1233.9 L1540.0,1232.4 L1542.0,1231.6 L1544.0,1230.7 L1546.0,1228.5 L1548.0,1225.5 L1550.0,1223.4 L1552.0,1222.6 L1554.0,1222.9 L1556.0,1223.1 L1558.0,1221.2 L1560.0,1218.7 L1562.0,1217.2 L1564.0,1217.9 L1566.0,1220.7 L1568.0,1223.5 L1570.0,1225.4 L1572.0,1227.4 L1574.0,1229.1 L1576.0,1231.2 L1578.0,1233.0 L1580.0,1234.3 L1582.0,1236.2 L1584.0,1237.5 L1586.0,1238.0 L1588.0,1239.6 L1590.0,1241.5 L1592.0,1243.0 L1594.0,1244.8 L1596.0,1245.9 L1598.0,1245.7 L1600.0,1245.1 L1602.0,1245.0 L1604.0,1245.4 L1606.0,1245.6 L1608.0,1244.6 L1610.0,1243.6 L1612.0,1246.2 L1614.0,1250.6 L1616.0,1253.3 L1618.0,1255.3 L1620.0,1258.4 L1622.0,1261.6 L1624.0,1262.9 L1626.0,1263.6 L1628.0,1264.0 L1630.0,1263.8 L1632.0,1263.5 L1634.0,1263.0 L1636.0,1261.5 L1638.0,1259.6 L1640.0,1259.6 L1642.0,1260.6 L1644.0,1260.7 L1646.0,1260.9 L1648.0,1261.7 L1650.0,1262.7 L1652.0,1263.6 L1654.0,1264.6 L1656.0,1266.1 L1658.0,1268.4 L1660.0,1271.7 L1662.0,1274.9 L1664.0,1276.6 L1666.0,1278.8 L1668.0,1279.6 L1670.0,1278.2 L1672.0,1278.0 L1674.0,1278.0 L1676.0,1276.8 L1678.0,1275.1 L1680.0,1273.6 L1682.0,1274.3 L1684.0,1276.2 L1686.0,1277.8 L1688.0,1278.9 L1690.0,1278.8 L1692.0,1277.9 L1694.0,1276.9 L1696.0,1275.3 L1698.0,1273.8 L1700.0,1273.4 L1702.0,1273.0 L1704.0,1272.6 L1706.0,1272.5 L1708.0,1272.7 L1710.0,1272.9 L1712.0,1273.5 L1714.0,1275.4 L1716.0,1276.9 L1718.0,1278.5 L1720.0,1281.3 L1722.0,1284.3 L1724.0,1286.4 L1726.0,1289.4 L1728.0,1292.4 L1730.0,1293.6 L1732.0,1294.4 L1734.0,1296.6 L1736.0,1300.4 L1738.0,1304.1 L1740.0,1307.1 L1742.0,1308.3 L1744.0,1308.6 L1746.0,1308.9 L1748.0,1309.2 L1750.0,1309.8 L1752.0,1310.3 L1754.0,1309.8 L1756.0,1308.8 L1758.0,1308.7 L1760.0,1308.6 L1762.0,1308.1 L1764.0,1308.3 L1766.0,1308.7 L1768.0,1308.2 L1770.0,1307.7 L1772.0,1307.6 L1774.0,1306.5 L1776.0,1305.1 L1778.0,1304.9 L1780.0,1306.7 L1782.0,1308.9 L1784.0,1310.7 L1786.0,1312.6 L1788.0,1315.0 L1790.0,1317.2 L1792.0,1319.2 L1794.0,1320.4 L1796.0,1321.4 L1798.0,1322.6 L1800.0,1324.2 L1802.0,1325.9 L1804.0,1325.8 L1806.0,1325.4 L1808.0,1325.7 L1810.0,1327.0 L1812.0,1328.6 L1814.0,1329.5 L1816.0,1330.8 L1818.0,1331.9 L1820.0,1332.4 L1822.0,1333.6 L1824.0,1333.7 L1826.0,1333.1 L1828.0,1333.8 L1830.0,1334.4 L1832.0,1334.3 L1834.0,1334.4 L1836.0,1334.5 L1838.0,1334.6 L1840.0,1335.6 L1842.0,1336.4 L1844.0,1336.4 L1846.0,1337.1 L1848.0,1337.6 L1850.0,1336.9 L1852.0,1335.7 L1854.0,1334.4 L1856.0,1333.8 L1858.0,1333.4 L1860.0,1331.4 L1862.0,1330.5 L1864.0,1330.1 L1866.0,1327.7 L1868.0,1324.3 L1870.0,1321.4 L1872.0,1319.3 L1874.0,1317.2 L1876.0,1314.9 L1878.0,1313.3 L1880.0,1312.4 L1882.0,1311.8 L1884.0,1311.2 L1886.0,1310.2 L1888.0,1310.3 L1890.0,1311.9 L1892.0,1313.1 L1894.0,1313.9 L1896.0,1314.6 L1898.0,1315.2 L1900.0,1316.0 L1902.0,1316.9 L1904.0,1318.8 L1906.0,1321.5 L1908.0,1324.5 L1910.0,1327.4 L1912.0,1329.3 L1914.0,1330.4 L1916.0,1332.6 L1918.0,1335.2 L1920.0,1336.6 L1922.0,1337.4 L1924.0,1338.6 L1926.0,1340.0 L1928.0,1340.8 L1930.0,1341.7 L1932.0,1343.0 L1934.0,1344.6 L1936.0,1346.4 L1938.0,1347.9 L1940.0,1348.1 L1942.0,1347.1 L1944.0,1346.4 L1946.0,1347.6 L1948.0,1348.5 L1950.0,1348.4 L1952.0,1348.6 L1954.0,1348.0 L1956.0,1347.3 L1958.0,1347.0 L1960.0,1346.9 L1962.0,1346.8 L1964.0,1346.5 L1966.0,1346.2 L1968.0,1345.4 L1970.0,1343.2 L1972.0,1340.9 L1974.0,1339.6 L1976.0,1338.3 L1978.0,1336.0 L1980.0,1332.5 L1982.0,1329.6 L1984.0,1326.8 L1986.0,1324.0 L1988.0,1320.8 L1990.0,1317.2 L1992.0,1313.3 L1994.0,1310.1 L1996.0,1307.9 L1998.0,1305.7 L2000.0,1302.6 L2002.0,1300.0 L2004.0,1298.6 L2006.0,1296.9 L2008.0,1295.0 L2010.0,1295.2 L2012.0,1296.9 L2014.0,1298.9 L2016.0,1301.0 L2018.0,1302.8 L2020.0,1304.1 L2022.0,1306.3 L2024.0,1312.0 L2026.0,1319.7 L2028.0,1327.7 L2030.0,1335.1 L2032.0,1341.9 L2034.0,1348.4 L2036.0,1355.1 L2038.0,1361.7 L2040.0,1365.1 L2042.0,1367.3 L2044.0,1369.6 L2046.0,1372.1 L2048.0,1374.5 L2050.0,1377.2 L2052.0,1379.9 L2054.0,1382.1 L2056.0,1384.0 L2058.0,1385.3 L2060.0,1386.4 L2062.0,1387.4 L2064.0,1388.6 L2066.0,1389.6 L2068.0,1391.1 L2070.0,1393.0 L2072.0,1393.9 L2074.0,1394.9 L2076.0,1395.7 L2078.0,1395.8 L2080.0,1396.4 L2082.0,1396.8 L2084.0,1397.2 L2086.0,1399.1 L2088.0,1401.2 L2090.0,1401.2 L2092.0,1401.0 L2094.0,1402.7 L2096.0,1405.0 L2098.0,1406.9 L2100.0,1407.9 L2102.0,1408.4 L2104.0,1409.0 L2106.0,1409.0 L2108.0,1409.8 L2110.0,1410.9 L2112.0,1410.6 L2114.0,1410.9 L2116.0,1411.6 L2118.0,1410.7 L2120.0,1409.8 L2122.0,1410.8 L2124.0,1411.6 L2126.0,1412.8 L2128.0,1414.7 L2130.0,1415.7 L2132.0,1416.4 L2134.0,1417.2 L2136.0,1417.3 L2138.0,1416.9 L2140.0,1417.1 L2142.0,1418.4 L2144.0,1419.7 L2146.0,1419.9 L2148.0,1419.8 L2150.0,1420.2 L2152.0,1421.6 L2154.0,1423.4 L2156.0,1424.5 L2158.0,1424.7 L2160.0,1424.9 L2162.0,1425.5 L2164.0,1425.5 L2166.0,1425.7 L2168.0,1426.3 L2170.0,1426.4 L2172.0,1427.2 L2174.0,1428.1 L2176.0,1428.6 L2178.0,1429.6 L2180.0,1430.7 L2182.0,1430.9 L2184.0,1432.0 L2186.0,1433.3 L2188.0,1433.5 L2190.0,1433.3 L2192.0,1433.1 L2194.0,1433.8 L2196.0,1434.3 L2198.0,1434.3 L2200.0,1434.4 L2202.0,1435.0 L2204.0,1436.0 L2206.0,1436.7 L2208.0,1437.1 L2210.0,1438.1 L2212.0,1439.0 L2214.0,1439.1 L2216.0,1438.4 L2218.0,1438.5 L2220.0,1439.1 L2222.0,1439.2 L2224.0,1440.1 L2226.0,1440.8 L2228.0,1441.1 L2230.0,1442.0 L2232.0,1442.9 L2234.0,1443.4 L2236.0,1443.9 L2238.0,1444.2 L2240.0,1443.8 L2242.0,1442.9 L2244.0,1442.3 L2246.0,1442.4 L2248.0,1443.4 L2250.0,1445.1 L2252.0,1445.7 L2254.0,1445.6 L2256.0,1445.4 L2258.0,1445.3 L2260.0,1445.6 L2262.0,1445.8 L2264.0,1446.1 L2266.0,1446.1 L2268.0,1445.3 L2274.0,1445.3" stroke="#ffbd00" stroke-width="9.6"/>
<path d="M168.0,954.9 L174.0,949.9 L176.0,950.6 L178.0,950.3 L180.0,948.6 L182.0,946.8 L184.0,945.3 L186.0,943.6 L188.0,943.3 L190.0,944.0 L192.0,944.3 L194.0,944.0 L196.0,944.1 L198.0,945.3 L200.0,946.7 L202.0,947.4 L204.0,946.9 L206.0,946.0 L208.0,945.0 L210.0,944.0 L212.0,944.4 L214.0,945.0 L216.0,945.4 L218.0,946.4 L220.0,947.3 L222.0,947.1 L224.0,947.1 L226.0,946.7 L228.0,944.9 L230.0,942.7 L232.0,941.4 L234.0,940.9 L236.0,940.6 L238.0,941.0 L240.0,942.0 L242.0,943.0 L244.0,944.0 L246.0,944.8 L248.0,944.5 L250.0,943.6 L252.0,943.3 L254.0,942.7 L256.0,941.9 L258.0,941.2 L260.0,940.5 L262.0,940.8 L264.0,941.1 L266.0,941.8 L268.0,943.2 L270.0,944.8 L272.0,945.6 L274.0,944.8 L276.0,943.4 L278.0,942.1 L280.0,940.6 L282.0,939.5 L284.0,939.4 L286.0,939.4 L288.0,938.6 L290.0,938.5 L292.0,939.0 L294.0,939.4 L296.0,940.1 L298.0,940.8 L300.0,939.7 L302.0,938.2 L304.0,937.8 L306.0,937.3 L308.0,936.8 L310.0,936.6 L312.0,936.9 L314.0,937.7 L316.0,938.1 L318.0,938.3 L320.0,938.4 L322.0,938.9 L324.0,939.6 L326.0,939.8 L328.0,940.0 L330.0,939.9 L332.0,939.0 L334.0,938.3 L336.0,938.0 L338.0,936.7 L340.0,934.6 L342.0,932.0 L344.0,930.5 L346.0,931.1 L348.0,931.8 L350.0,931.8 L352.0,931.5 L354.0,931.8 L356.0,931.2 L358.0,930.6 L360.0,931.7 L362.0,933.1 L364.0,934.2 L366.0,935.3 L368.0,935.0 L370.0,933.9 L372.0,933.0 L374.0,932.2 L376.0,932.0 L378.0,931.9 L380.0,931.7 L382.0,932.9 L384.0,933.7 L386.0,933.0 L388.0,932.1 L390.0,932.1 L392.0,931.8 L394.0,930.9 L396.0,931.1 L398.0,932.0 L400.0,932.2 L402.0,932.8 L404.0,933.5 L406.0,932.7 L408.0,931.8 L410.0,931.9 L412.0,931.0 L414.0,929.0 L416.0,928.2 L418.0,927.6 L420.0,927.2 L422.0,927.2 L424.0,926.7 L426.0,926.9 L428.0,927.8 L430.0,928.6 L432.0,929.6 L434.0,929.7 L436.0,929.0 L438.0,928.7 L440.0,928.6 L442.0,928.7 L444.0,928.9 L446.0,929.4 L448.0,930.2 L450.0,931.1 L452.0,931.3 L454.0,930.7 L456.0,930.4 L458.0,930.2 L460.0,930.4 L462.0,930.3 L464.0,929.1 L466.0,928.0 L468.0,927.5 L470.0,927.8 L472.0,929.2 L474.0,931.0 L476.0,931.7 L478.0,930.5 L480.0,929.0 L482.0,928.3 L484.0,927.6 L486.0,927.3 L488.0,927.5 L490.0,928.0 L492.0,928.6 L494.0,928.8 L496.0,928.9 L498.0,928.6 L500.0,928.7 L502.0,929.2 L504.0,928.4 L506.0,927.7 L508.0,927.8 L510.0,927.4 L512.0,926.9 L514.0,927.7 L516.0,928.8 L518.0,928.8 L520.0,929.0 L522.0,929.4 L524.0,929.1 L526.0,928.6 L528.0,928.7 L530.0,929.6 L532.0,931.0 L534.0,931.6 L536.0,932.2 L538.0,933.1 L540.0,932.7 L542.0,931.2 L544.0,930.2 L546.0,929.9 L548.0,929.4 L550.0,929.0 L552.0,929.4 L554.0,929.9 L556.0,930.3 L558.0,929.1 L560.0,927.3 L562.0,925.5 L564.0,924.0 L566.0,924.8 L568.0,926.6 L570.0,927.8 L572.0,929.0 L574.0,929.1 L576.0,928.2 L578.0,927.1 L580.0,926.1 L582.0,925.7 L584.0,925.4 L586.0,925.5 L588.0,926.2 L590.0,926.7 L592.0,926.0 L594.0,924.6 L596.0,924.2 L598.0,924.0 L600.0,923.1 L602.0,922.3 L604.0,922.5 L606.0,923.5 L608.0,923.7 L610.0,922.8 L612.0,922.5 L614.0,922.6 L616.0,921.2 L618.0,919.1 L620.0,917.5 L622.0,916.0 L624.0,914.1 L626.0,912.8 L628.0,912.5 L630.0,912.5 L632.0,911.8 L634.0,909.2 L636.0,905.2 L638.0,902.4 L640.0,900.7 L642.0,898.7 L644.0,896.8 L646.0,894.8 L648.0,892.7 L650.0,891.0 L652.0,890.5 L654.0,891.0 L656.0,891.5 L658.0,892.1 L660.0,893.4 L662.0,895.1 L664.0,897.3 L666.0,900.4 L668.0,903.6 L670.0,906.6 L672.0,909.9 L674.0,913.5 L676.0,915.5 L678.0,916.4 L680.0,917.0 L682.0,917.5 L684.0,917.9 L686.0,918.6 L688.0,919.2 L690.0,919.2 L692.0,919.6 L694.0,920.7 L696.0,921.6 L698.0,922.4 L700.0,923.8 L702.0,924.7 L704.0,923.8 L706.0,922.6 L708.0,922.0 L710.0,923.0 L712.0,923.5 L714.0,923.4 L716.0,923.2 L718.0,923.4 L720.0,924.1 L722.0,923.9 L724.0,923.3 L726.0,923.1 L728.0,922.3 L730.0,921.6 L732.0,921.1 L734.0,920.3 L736.0,920.9 L738.0,922.5 L740.0,922.7 L742.0,921.8 L744.0,921.1 L746.0,920.0 L748.0,920.2 L750.0,921.1 L752.0,921.7 L754.0,923.1 L756.0,923.7 L758.0,922.6 L760.0,921.9 L762.0,921.3 L764.0,920.9 L766.0,919.6 L768.0,917.4 L770.0,916.0 L772.0,915.3 L774.0,917.0 L776.0,919.1 L778.0,921.0 L780.0,923.1 L782.0,923.5 L784.0,923.3 L786.0,923.7 L788.0,924.4 L790.0,925.1 L792.0,925.0 L794.0,924.8 L796.0,924.7 L798.0,924.2 L800.0,923.9 L802.0,924.5 L804.0,925.9 L806.0,927.4 L808.0,927.9 L810.0,928.1 L812.0,929.4 L814.0,931.2 L816.0,932.0 L818.0,932.1 L820.0,932.6 L822.0,933.6 L824.0,934.8 L826.0,935.9 L828.0,936.5 L830.0,936.8 L832.0,936.5 L834.0,936.2 L836.0,935.5 L838.0,934.4 L840.0,934.0 L842.0,934.6 L844.0,936.6 L846.0,938.5 L848.0,938.5 L850.0,937.6 L852.0,937.4 L854.0,936.7 L856.0,935.3 L858.0,935.1 L860.0,935.9 L862.0,937.1 L864.0,937.8 L866.0,938.0 L868.0,938.4 L870.0,938.4 L872.0,938.1 L874.0,938.5 L876.0,939.1 L878.0,939.2 L880.0,939.2 L882.0,939.1 L884.0,939.6 L886.0,940.8 L888.0,941.4 L890.0,940.2 L892.0,938.7 L894.0,937.6 L896.0,938.2 L898.0,939.6 L900.0,940.0 L902.0,939.3 L904.0,937.9 L906.0,936.1 L908.0,936.4 L910.0,937.9 L912.0,939.7 L914.0,940.8 L916.0,940.7 L918.0,940.1 L920.0,939.7 L922.0,938.7 L924.0,937.8 L926.0,938.3 L928.0,939.6 L930.0,939.8 L932.0,939.8 L934.0,941.2 L936.0,942.0 L938.0,942.5 L940.0,944.4 L942.0,945.2 L944.0,946.1 L946.0,947.5 L948.0,947.9 L950.0,948.1 L952.0,947.5 L954.0,946.3 L956.0,946.3 L958.0,946.5 L960.0,946.2 L962.0,946.5 L964.0,947.5 L966.0,947.8 L968.0,946.6 L970.0,944.9 L972.0,944.4 L974.0,944.7 L976.0,945.0 L978.0,945.8 L980.0,946.8 L982.0,946.8 L984.0,947.4 L986.0,947.3 L988.0,946.6 L990.0,946.0 L992.0,945.2 L994.0,944.8 L996.0,944.9 L998.0,944.6 L1000.0,944.9 L1002.0,945.3 L1004.0,945.6 L1006.0,945.5 L1008.0,944.1 L1010.0,943.0 L1012.0,943.2 L1014.0,941.8 L1016.0,939.6 L1018.0,937.4 L1020.0,933.4 L1022.0,929.7 L1024.0,929.0 L1026.0,929.2 L1028.0,929.1 L1030.0,929.8 L1032.0,930.7 L1034.0,931.8 L1036.0,934.2 L1038.0,936.9 L1040.0,939.4 L1042.0,942.5 L1044.0,945.6 L1046.0,948.5 L1048.0,950.9 L1050.0,951.1 L1052.0,952.0 L1054.0,953.5 L1056.0,953.9 L1058.0,954.2 L1060.0,954.2 L1062.0,953.6 L1064.0,953.0 L1066.0,952.9 L1068.0,953.8 L1070.0,954.4 L1072.0,954.4 L1074.0,955.1 L1076.0,956.0 L1078.0,957.0 L1080.0,957.5 L1082.0,957.0 L1084.0,956.3 L1086.0,955.7 L1088.0,955.0 L1090.0,955.0 L1092.0,955.9 L1094.0,957.3 L1096.0,958.2 L1098.0,957.7 L1100.0,957.2 L1102.0,958.2 L1104.0,960.1 L1106.0,961.4 L1108.0,961.5 L1110.0,961.2 L1112.0,960.6 L1114.0,960.0 L1116.0,959.8 L1118.0,959.6 L1120.0,959.2 L1122.0,959.4 L1124.0,960.3 L1126.0,960.9 L1128.0,960.8 L1130.0,961.0 L1132.0,961.4 L1134.0,961.9 L1136.0,962.5 L1138.0,963.0 L1140.0,963.2 L1142.0,964.0 L1144.0,965.3 L1146.0,966.3 L1148.0,967.0 L1150.0,967.4 L1152.0,967.9 L1154.0,968.8 L1156.0,969.2 L1158.0,969.7 L1160.0,969.7 L1162.0,969.1 L1164.0,968.7 L1166.0,969.2 L1168.0,970.4 L1170.0,970.7 L1172.0,970.0 L1174.0,969.5 L1176.0,969.3 L1178.0,970.3 L1180.0,972.1 L1182.0,973.0 L1184.0,973.8 L1186.0,974.5 L1188.0,974.4 L1190.0,974.8 L1192.0,975.8 L1194.0,976.3 L1196.0,976.2 L1198.0,976.5 L1200.0,976.8 L1202.0,976.5 L1204.0,976.7 L1206.0,977.2 L1208.0,977.4 L1210.0,978.0 L1212.0,978.5 L1214.0,978.3 L1216.0,976.8 L1218.0,976.5 L1220.0,978.1 L1222.0,978.9 L1224.0,979.2 L1226.0,979.5 L1228.0,979.9 L1230.0,980.7 L1232.0,981.1 L1234.0,981.1 L1236.0,980.8 L1238.0,980.1 L1240.0,979.3 L1242.0,978.3 L1244.0,978.2 L1246.0,979.3 L1248.0,980.1 L1250.0,980.9 L1252.0,982.2 L1254.0,982.9 L1256.0,983.1 L1258.0,983.0 L1260.0,982.1 L1262.0,981.4 L1264.0,981.4 L1266.0,981.0 L1268.0,980.4 L1270.0,980.0 L1272.0,979.4 L1274.0,979.2 L1276.0,978.8 L1278.0,978.3 L1280.0,978.4 L1282.0,978.6 L1284.0,977.8 L1286.0,976.8 L1288.0,976.1 L1290.0,974.6 L1292.0,973.4 L1294.0,972.8 L1296.0,973.0 L1298.0,973.2 L1300.0,972.6 L1302.0,972.6 L1304.0,972.7 L1306.0,973.2 L1308.0,974.2 L1310.0,974.3 L1312.0,973.8 L1314.0,973.7 L1316.0,973.6 L1318.0,973.1 L1320.0,973.0 L1322.0,972.7 L1324.0,971.4 L1326.0,969.7 L1328.0,967.9 L1330.0,966.4 L1332.0,965.2 L1334.0,963.8 L1336.0,962.8 L1338.0,961.9 L1340.0,961.6 L1342.0,961.7 L1344.0,962.0 L1346.0,962.4 L1348.0,962.7 L1350.0,963.0 L1352.0,963.7 L1354.0,964.5 L1356.0,965.0 L1358.0,965.9 L1360.0,967.7 L1362.0,968.8 L1364.0,969.0 L1366.0,970.2 L1368.0,971.4 L1370.0,971.7 L1372.0,972.2 L1374.0,973.0 L1376.0,973.6 L1378.0,973.8 L1380.0,974.1 L1382.0,975.4 L1384.0,976.9 L1386.0,977.4 L1388.0,976.4 L1390.0,975.0 L1392.0,973.8 L1394.0,973.6 L1396.0,974.6 L1398.0,974.8 L1400.0,974.0 L1402.0,973.7 L1404.0,974.0 L1406.0,974.5 L1408.0,974.4 L1410.0,971.9 L1412.0,968.3 L1414.0,965.1 L1416.0,963.2 L1418.0,962.8 L1420.0,964.5 L1422.0,966.2 L1424.0,966.4 L1426.0,965.4 L1428.0,963.7 L1430.0,962.5 L1432.0,962.3 L1434.0,961.6 L1436.0,960.3 L1438.0,959.0 L1440.0,958.1 L1442.0,958.5 L1444.0,959.2 L1446.0,959.5 L1448.0,961.4 L1450.0,963.8 L1452.0,965.3 L1454.0,965.9 L1456.0,967.1 L1458.0,969.2 L1460.0,972.3 L1462.0,975.7 L1464.0,978.5 L1466.0,981.1 L1468.0,983.5 L1470.0,985.6 L1472.0,987.0 L1474.0,988.7 L1476.0,991.2 L1478.0,993.1 L1480.0,994.2 L1482.0,995.3 L1484.0,996.3 L1486.0,997.0 L1488.0,996.9 L1490.0,997.0 L1492.0,998.5 L1494.0,1000.2 L1496.0,1001.4 L1498.0,1003.0 L1500.0,1004.9 L1502.0,1005.7 L1504.0,1005.2 L1506.0,1004.3 L1508.0,1003.3 L1510.0,1002.8 L1512.0,1003.5 L1514.0,1004.6 L1516.0,1004.8 L1518.0,1004.8 L1520.0,1005.1 L1522.0,1005.5 L1524.0,1005.4 L1526.0,1003.4 L1528.0,1001.8 L1530.0,1000.6 L1532.0,1000.3 L1534.0,1001.9 L1536.0,1003.1 L1538.0,1003.4 L1540.0,1003.3 L1542.0,1002.1 L1544.0,999.9 L1546.0,997.6 L1548.0,996.2 L1550.0,995.1 L1552.0,994.2 L1554.0,993.8 L1556.0,995.0 L1558.0,996.5 L1560.0,995.0 L1562.0,992.3 L1564.0,991.7 L1566.0,994.1 L1568.0,996.4 L1570.0,997.6 L1572.0,998.3 L1574.0,999.1 L1576.0,999.7 L1578.0,999.9 L1580.0,1000.3 L1582.0,1001.2 L1584.0,1002.0 L1586.0,1002.3 L1588.0,1001.9 L1590.0,1002.2 L1592.0,1003.0 L1594.0,1003.5 L1596.0,1003.6 L1598.0,1003.6 L1600.0,1003.6 L1602.0,1003.5 L1604.0,1003.1 L1606.0,1002.6 L1608.0,1002.1 L1610.0,1003.2 L1612.0,1005.3 L1614.0,1008.1 L1616.0,1009.9 L1618.0,1010.1 L1620.0,1010.8 L1622.0,1011.4 L1624.0,1012.1 L1626.0,1013.3 L1628.0,1013.9 L1630.0,1013.8 L1632.0,1013.0 L1634.0,1012.1 L1636.0,1011.8 L1638.0,1012.0 L1640.0,1011.7 L1642.0,1011.8 L1644.0,1013.3 L1646.0,1013.9 L1648.0,1014.0 L1650.0,1014.9 L1652.0,1015.3 L1654.0,1015.6 L1656.0,1016.1 L1658.0,1016.2 L1660.0,1017.0 L1662.0,1018.4 L1664.0,1019.5 L1666.0,1020.7 L1668.0,1021.5 L1670.0,1021.4 L1672.0,1021.4 L1674.0,1021.8 L1676.0,1021.3 L1678.0,1019.6 L1680.0,1018.4 L1682.0,1017.7 L1684.0,1016.7 L1686.0,1017.4 L1688.0,1019.5 L1690.0,1020.2 L1692.0,1020.3 L1694.0,1019.9 L1696.0,1019.4 L1698.0,1019.2 L1700.0,1018.7 L1702.0,1018.2 L1704.0,1017.8 L1706.0,1017.7 L1708.0,1017.4 L1710.0,1017.0 L1712.0,1018.0 L1714.0,1018.8 L1716.0,1019.2 L1718.0,1021.4 L1720.0,1024.1 L1722.0,1025.7 L1724.0,1026.9 L1726.0,1027.8 L1728.0,1028.9 L1730.0,1030.0 L1732.0,1030.7 L1734.0,1031.7 L1736.0,1033.1 L1738.0,1034.7 L1740.0,1035.5 L1742.0,1034.7 L1744.0,1034.5 L1746.0,1035.1 L1748.0,1035.6 L1750.0,1036.0 L1752.0,1036.3 L1754.0,1037.0 L1756.0,1037.4 L1758.0,1037.4 L1760.0,1037.5 L1762.0,1037.3 L1764.0,1036.3 L1766.0,1035.6 L1768.0,1035.3 L1770.0,1034.6 L1772.0,1034.2 L1774.0,1035.1 L1776.0,1035.5 L1778.0,1035.0 L1780.0,1034.9 L1782.0,1035.8 L1784.0,1036.1 L1786.0,1035.9 L1788.0,1036.9 L1790.0,1037.7 L1792.0,1038.0 L1794.0,1039.1 L1796.0,1039.9 L1798.0,1040.2 L1800.0,1040.5 L1802.0,1041.2 L1804.0,1041.4 L1806.0,1041.0 L1808.0,1041.4 L1810.0,1042.8 L1812.0,1043.5 L1814.0,1043.1 L1816.0,1042.8 L1818.0,1042.5 L1820.0,1043.0 L1822.0,1044.0 L1824.0,1043.8 L1826.0,1043.3 L1828.0,1042.6 L1830.0,1042.0 L1832.0,1041.2 L1834.0,1041.1 L1836.0,1042.6 L1838.0,1044.1 L1840.0,1044.5 L1842.0,1044.1 L1844.0,1043.8 L1846.0,1044.5 L1848.0,1044.5 L1850.0,1043.5 L1852.0,1043.4 L1854.0,1043.3 L1856.0,1042.6 L1858.0,1041.7 L1860.0,1040.6 L1862.0,1039.8 L1864.0,1039.5 L1866.0,1038.9 L1868.0,1038.0 L1870.0,1037.3 L1872.0,1035.7 L1874.0,1034.5 L1876.0,1033.8 L1878.0,1033.1 L1880.0,1032.9 L1882.0,1033.2 L1884.0,1032.9 L1886.0,1032.7 L1888.0,1033.5 L1890.0,1034.2 L1892.0,1034.3 L1894.0,1033.9 L1896.0,1034.2 L1898.0,1035.0 L1900.0,1035.1 L1902.0,1035.7 L1904.0,1037.2 L1906.0,1038.2 L1908.0,1038.6 L1910.0,1039.3 L1912.0,1040.0 L1914.0,1040.4 L1916.0,1040.1 L1918.0,1039.5 L1920.0,1039.6 L1922.0,1040.1 L1924.0,1040.9 L1926.0,1042.3 L1928.0,1043.3 L1930.0,1044.0 L1932.0,1044.3 L1934.0,1044.8 L1936.0,1045.8 L1938.0,1047.0 L1940.0,1047.5 L1942.0,1047.6 L1944.0,1047.8 L1946.0,1048.5 L1948.0,1048.8 L1950.0,1048.3 L1952.0,1048.9 L1954.0,1049.6 L1956.0,1049.9 L1958.0,1050.8 L1960.0,1051.5 L1962.0,1050.3 L1964.0,1048.6 L1966.0,1048.2 L1968.0,1047.7 L1970.0,1046.9 L1972.0,1046.6 L1974.0,1045.9 L1976.0,1044.1 L1978.0,1042.6 L1980.0,1041.3 L1982.0,1039.7 L1984.0,1038.3 L1986.0,1036.6 L1988.0,1034.7 L1990.0,1033.2 L1992.0,1032.0 L1994.0,1030.7 L1996.0,1029.7 L1998.0,1029.5 L2000.0,1029.6 L2002.0,1029.4 L2004.0,1029.0 L2006.0,1028.8 L2008.0,1028.5 L2010.0,1027.9 L2012.0,1028.7 L2014.0,1031.2 L2016.0,1033.8 L2018.0,1035.8 L2020.0,1037.8 L2022.0,1039.9 L2024.0,1042.8 L2026.0,1046.2 L2028.0,1049.8 L2030.0,1053.6 L2032.0,1057.1 L2034.0,1060.1 L2036.0,1062.4 L2038.0,1064.9 L2040.0,1067.7 L2042.0,1069.3 L2044.0,1070.4 L2046.0,1071.9 L2048.0,1072.7 L2050.0,1073.4 L2052.0,1074.2 L2054.0,1075.4 L2056.0,1077.6 L2058.0,1079.8 L2060.0,1082.0 L2062.0,1083.1 L2064.0,1082.8 L2066.0,1082.3 L2068.0,1082.3 L2070.0,1082.4 L2072.0,1082.4 L2074.0,1082.7 L2076.0,1083.6 L2078.0,1084.2 L2080.0,1084.4 L2082.0,1085.0 L2084.0,1085.5 L2086.0,1085.7 L2088.0,1086.5 L2090.0,1086.7 L2092.0,1086.9 L2094.0,1087.4 L2096.0,1087.0 L2098.0,1087.8 L2100.0,1089.8 L2102.0,1090.3 L2104.0,1090.4 L2106.0,1091.0 L2108.0,1091.2 L2110.0,1091.0 L2112.0,1091.2 L2114.0,1091.6 L2116.0,1091.4 L2118.0,1090.9 L2120.0,1090.9 L2122.0,1091.8 L2124.0,1093.0 L2126.0,1093.8 L2128.0,1093.9 L2130.0,1093.3 L2132.0,1093.3 L2134.0,1093.4 L2136.0,1093.4 L2138.0,1094.7 L2140.0,1095.6 L2142.0,1094.5 L2144.0,1094.1 L2146.0,1095.6 L2148.0,1096.7 L2150.0,1097.0 L2152.0,1097.0 L2154.0,1096.5 L2156.0,1096.8 L2158.0,1097.6 L2160.0,1097.6 L2162.0,1097.8 L2164.0,1098.9 L2166.0,1099.8 L2168.0,1100.6 L2170.0,1101.0 L2172.0,1100.8 L2174.0,1100.8 L2176.0,1101.4 L2178.0,1102.6 L2180.0,1103.7 L2182.0,1103.3 L2184.0,1102.1 L2186.0,1101.6 L2188.0,1101.2 L2190.0,1101.0 L2192.0,1101.3 L2194.0,1101.6 L2196.0,1102.0 L2198.0,1102.7 L2200.0,1103.3 L2202.0,1103.2 L2204.0,1103.3 L2206.0,1103.5 L2208.0,1103.2 L2210.0,1103.8 L2212.0,1104.9 L2214.0,1105.4 L2216.0,1105.2 L2218.0,1104.7 L2220.0,1104.4 L2222.0,1104.8 L2224.0,1105.7 L2226.0,1106.8 L2228.0,1107.3 L2230.0,1107.5 L2232.0,1107.8 L2234.0,1107.7 L2236.0,1107.0 L2238.0,1106.3 L2240.0,1106.1 L2242.0,1106.2 L2244.0,1106.0 L2246.0,1106.2 L2248.0,1106.5 L2250.0,1106.9 L2252.0,1107.6 L2254.0,1108.3 L2256.0,1109.0 L2258.0,1109.1 L2260.0,1109.0 L2262.0,1109.2 L2264.0,1109.3 L2266.0,1108.9 L2268.0,1108.6 L2274.0,1108.6" stroke="#3d68c0" stroke-width="9.4"/>
<path d="M168.0,564.5 L174.0,559.5 L176.0,555.6 L178.0,551.8 L180.0,549.8 L182.0,547.3 L184.0,545.0 L186.0,544.5 L188.0,544.9 L190.0,546.1 L192.0,548.7 L194.0,551.7 L196.0,554.1 L198.0,555.2 L200.0,556.4 L202.0,556.0 L204.0,555.0 L206.0,554.6 L208.0,554.5 L210.0,554.3 L212.0,553.7 L214.0,552.8 L216.0,552.2 L218.0,552.0 L220.0,553.1 L222.0,556.3 L224.0,557.4 L226.0,554.4 L228.0,551.0 L230.0,548.4 L232.0,546.1 L234.0,544.3 L236.0,545.4 L238.0,548.0 L240.0,550.0 L242.0,549.3 L244.0,546.6 L246.0,544.1 L248.0,542.3 L250.0,540.4 L252.0,538.6 L254.0,537.8 L256.0,537.7 L258.0,537.6 L260.0,537.1 L262.0,536.5 L264.0,536.1 L266.0,536.6 L268.0,537.3 L270.0,537.8 L272.0,539.0 L274.0,539.3 L276.0,538.3 L278.0,537.7 L280.0,537.9 L282.0,537.7 L284.0,536.4 L286.0,534.6 L288.0,533.9 L290.0,533.7 L292.0,532.7 L294.0,531.9 L296.0,531.2 L298.0,529.4 L300.0,527.4 L302.0,526.8 L304.0,526.9 L306.0,526.9 L308.0,526.6 L310.0,526.4 L312.0,527.6 L314.0,528.9 L316.0,529.1 L318.0,528.4 L320.0,527.9 L322.0,527.3 L324.0,527.6 L326.0,529.2 L328.0,529.9 L330.0,528.3 L332.0,524.9 L334.0,521.1 L336.0,518.0 L338.0,513.9 L340.0,508.8 L342.0,504.8 L344.0,502.3 L346.0,500.9 L348.0,500.3 L350.0,500.5 L352.0,501.0 L354.0,501.0 L356.0,501.4 L358.0,503.6 L360.0,506.9 L362.0,509.1 L364.0,508.9 L366.0,508.5 L368.0,508.6 L370.0,507.9 L372.0,507.2 L374.0,506.2 L376.0,505.1 L378.0,504.3 L380.0,502.6 L382.0,501.4 L384.0,501.8 L386.0,502.1 L388.0,502.0 L390.0,502.5 L392.0,504.0 L394.0,505.8 L396.0,507.0 L398.0,507.1 L400.0,506.4 L402.0,505.4 L404.0,503.8 L406.0,501.8 L408.0,499.4 L410.0,496.9 L412.0,495.7 L414.0,496.3 L416.0,497.8 L418.0,497.9 L420.0,494.6 L422.0,491.1 L424.0,489.9 L426.0,492.0 L428.0,494.0 L430.0,494.7 L432.0,495.2 L434.0,496.8 L436.0,498.8 L438.0,499.1 L440.0,497.6 L442.0,496.5 L444.0,496.6 L446.0,497.3 L448.0,496.6 L450.0,493.8 L452.0,491.3 L454.0,489.8 L456.0,487.2 L458.0,485.9 L460.0,486.6 L462.0,487.7 L464.0,487.9 L466.0,488.7 L468.0,489.8 L470.0,490.6 L472.0,490.7 L474.0,489.3 L476.0,487.8 L478.0,487.7 L480.0,487.5 L482.0,487.1 L484.0,487.5 L486.0,487.8 L488.0,488.2 L490.0,488.4 L492.0,488.7 L494.0,488.9 L496.0,488.6 L498.0,487.9 L500.0,487.4 L502.0,486.3 L504.0,484.2 L506.0,482.6 L508.0,481.0 L510.0,479.9 L512.0,481.7 L514.0,483.6 L516.0,484.8 L518.0,484.4 L520.0,483.5 L522.0,483.5 L524.0,483.4 L526.0,482.7 L528.0,483.4 L530.0,485.9 L532.0,489.6 L534.0,489.8 L536.0,486.9 L538.0,483.7 L540.0,480.5 L542.0,479.3 L544.0,482.2 L546.0,484.6 L548.0,485.7 L550.0,484.0 L552.0,481.3 L554.0,478.7 L556.0,477.0 L558.0,477.4 L560.0,478.7 L562.0,479.4 L564.0,479.3 L566.0,477.1 L568.0,473.7 L570.0,470.3 L572.0,467.4 L574.0,466.1 L576.0,465.2 L578.0,463.3 L580.0,461.2 L582.0,459.7 L584.0,458.6 L586.0,457.9 L588.0,456.9 L590.0,455.2 L592.0,453.9 L594.0,453.3 L596.0,452.5 L598.0,451.4 L600.0,450.8 L602.0,451.0 L604.0,451.5 L606.0,451.5 L608.0,451.4 L610.0,450.7 L612.0,449.2 L614.0,447.3 L616.0,445.1 L618.0,442.5 L620.0,440.7 L622.0,438.0 L624.0,432.4 L626.0,426.5 L628.0,421.7 L630.0,417.3 L632.0,412.1 L634.0,406.5 L636.0,395.2 L638.0,381.1 L640.0,368.2 L642.0,359.7 L644.0,351.9 L646.0,344.1 L648.0,338.3 L650.0,334.1 L652.0,330.6 L654.0,329.2 L656.0,331.6 L658.0,335.1 L660.0,339.7 L662.0,346.0 L664.0,353.6 L666.0,364.4 L668.0,378.2 L670.0,390.5 L672.0,399.8 L674.0,408.9 L676.0,417.2 L678.0,423.5 L680.0,429.4 L682.0,434.9 L684.0,439.2 L686.0,441.8 L688.0,444.4 L690.0,447.0 L692.0,446.6 L694.0,445.8 L696.0,446.8 L698.0,448.7 L700.0,450.6 L702.0,452.3 L704.0,453.6 L706.0,454.4 L708.0,454.5 L710.0,454.4 L712.0,453.7 L714.0,452.9 L716.0,451.8 L718.0,449.2 L720.0,446.4 L722.0,445.3 L724.0,445.7 L726.0,445.8 L728.0,446.7 L730.0,447.7 L732.0,448.4 L734.0,449.6 L736.0,451.0 L738.0,451.9 L740.0,452.4 L742.0,451.0 L744.0,448.8 L746.0,446.0 L748.0,445.9 L750.0,447.0 L752.0,447.6 L754.0,448.1 L756.0,448.2 L758.0,447.2 L760.0,444.6 L762.0,441.7 L764.0,438.9 L766.0,436.1 L768.0,435.5 L770.0,436.7 L772.0,437.7 L774.0,438.6 L776.0,438.8 L778.0,438.1 L780.0,436.5 L782.0,435.6 L784.0,437.6 L786.0,439.8 L788.0,440.3 L790.0,438.3 L792.0,437.0 L794.0,436.5 L796.0,435.2 L798.0,435.7 L800.0,437.0 L802.0,439.2 L804.0,442.5 L806.0,446.4 L808.0,451.3 L810.0,456.5 L812.0,461.8 L814.0,468.4 L816.0,473.7 L818.0,474.9 L820.0,475.1 L822.0,475.7 L824.0,477.1 L826.0,478.7 L828.0,480.0 L830.0,481.0 L832.0,481.7 L834.0,482.1 L836.0,481.7 L838.0,480.8 L840.0,480.9 L842.0,481.8 L844.0,482.5 L846.0,483.6 L848.0,484.5 L850.0,483.5 L852.0,481.7 L854.0,479.5 L856.0,479.0 L858.0,481.0 L860.0,482.9 L862.0,483.8 L864.0,484.0 L866.0,483.5 L868.0,482.3 L870.0,481.6 L872.0,482.1 L874.0,481.9 L876.0,481.7 L878.0,481.8 L880.0,481.4 L882.0,480.8 L884.0,479.6 L886.0,478.2 L888.0,477.9 L890.0,478.2 L892.0,478.6 L894.0,479.6 L896.0,480.7 L898.0,481.8 L900.0,483.6 L902.0,483.3 L904.0,481.6 L906.0,480.2 L908.0,479.6 L910.0,480.0 L912.0,480.3 L914.0,479.0 L916.0,476.5 L918.0,473.9 L920.0,472.3 L922.0,474.8 L924.0,478.3 L926.0,481.2 L928.0,483.5 L930.0,484.4 L932.0,484.8 L934.0,485.7 L936.0,486.9 L938.0,488.5 L940.0,490.6 L942.0,492.6 L944.0,493.8 L946.0,494.1 L948.0,494.4 L950.0,495.9 L952.0,497.8 L954.0,498.1 L956.0,494.8 L958.0,490.1 L960.0,486.6 L962.0,485.4 L964.0,484.7 L966.0,483.7 L968.0,483.1 L970.0,482.3 L972.0,480.5 L974.0,479.5 L976.0,481.1 L978.0,482.4 L980.0,483.3 L982.0,484.9 L984.0,484.2 L986.0,481.8 L988.0,479.8 L990.0,478.1 L992.0,476.7 L994.0,475.4 L996.0,473.6 L998.0,472.1 L1000.0,471.4 L1002.0,470.0 L1004.0,467.3 L1006.0,465.4 L1008.0,463.4 L1010.0,460.2 L1012.0,457.1 L1014.0,453.8 L1016.0,449.6 L1018.0,445.4 L1020.0,441.5 L1022.0,438.1 L1024.0,434.4 L1026.0,429.9 L1028.0,425.6 L1030.0,421.6 L1032.0,421.6 L1034.0,425.9 L1036.0,430.2 L1038.0,436.9 L1040.0,445.8 L1042.0,455.6 L1044.0,466.7 L1046.0,476.9 L1048.0,482.5 L1050.0,485.7 L1052.0,488.8 L1054.0,493.2 L1056.0,497.3 L1058.0,500.0 L1060.0,499.4 L1062.0,497.6 L1064.0,496.9 L1066.0,497.8 L1068.0,498.9 L1070.0,500.1 L1072.0,501.1 L1074.0,502.4 L1076.0,503.6 L1078.0,505.0 L1080.0,506.2 L1082.0,506.1 L1084.0,505.2 L1086.0,505.0 L1088.0,505.5 L1090.0,505.3 L1092.0,504.7 L1094.0,504.5 L1096.0,504.6 L1098.0,506.1 L1100.0,508.2 L1102.0,509.8 L1104.0,510.9 L1106.0,511.6 L1108.0,511.8 L1110.0,512.1 L1112.0,512.5 L1114.0,512.7 L1116.0,512.2 L1118.0,511.4 L1120.0,511.3 L1122.0,512.1 L1124.0,513.3 L1126.0,514.9 L1128.0,515.9 L1130.0,516.8 L1132.0,518.1 L1134.0,519.8 L1136.0,521.6 L1138.0,523.1 L1140.0,523.6 L1142.0,522.1 L1144.0,524.3 L1146.0,527.8 L1148.0,531.0 L1150.0,533.2 L1152.0,534.7 L1154.0,535.9 L1156.0,537.4 L1158.0,537.3 L1160.0,536.1 L1162.0,535.8 L1164.0,536.7 L1166.0,537.9 L1168.0,539.2 L1170.0,540.1 L1172.0,541.0 L1174.0,542.8 L1176.0,544.9 L1178.0,546.1 L1180.0,547.0 L1182.0,548.5 L1184.0,550.0 L1186.0,551.0 L1188.0,552.5 L1190.0,553.8 L1192.0,555.2 L1194.0,556.5 L1196.0,558.4 L1198.0,561.6 L1200.0,564.4 L1202.0,564.9 L1204.0,563.9 L1206.0,562.3 L1208.0,561.7 L1210.0,562.5 L1212.0,563.2 L1214.0,563.7 L1216.0,564.2 L1218.0,565.2 L1220.0,567.4 L1222.0,570.3 L1224.0,572.7 L1226.0,573.5 L1228.0,572.8 L1230.0,571.7 L1232.0,570.2 L1234.0,569.7 L1236.0,570.5 L1238.0,570.3 L1240.0,570.4 L1242.0,571.2 L1244.0,571.3 L1246.0,570.6 L1248.0,570.1 L1250.0,569.9 L1252.0,570.3 L1254.0,570.8 L1256.0,570.2 L1258.0,568.8 L1260.0,567.2 L1262.0,565.6 L1264.0,563.8 L1266.0,560.6 L1268.0,556.5 L1270.0,554.4 L1272.0,555.9 L1274.0,557.5 L1276.0,558.1 L1278.0,556.1 L1280.0,553.1 L1282.0,550.3 L1284.0,547.6 L1286.0,545.7 L1288.0,543.6 L1290.0,540.1 L1292.0,537.5 L1294.0,535.0 L1296.0,531.1 L1298.0,529.9 L1300.0,530.3 L1302.0,531.0 L1304.0,532.0 L1306.0,531.3 L1308.0,529.4 L1310.0,527.6 L1312.0,525.2 L1314.0,522.4 L1316.0,520.7 L1318.0,519.2 L1320.0,516.7 L1322.0,513.6 L1324.0,511.7 L1326.0,511.2 L1328.0,510.7 L1330.0,508.9 L1332.0,504.8 L1334.0,500.4 L1336.0,496.0 L1338.0,492.1 L1340.0,488.9 L1342.0,486.5 L1344.0,484.3 L1346.0,482.9 L1348.0,482.2 L1350.0,483.0 L1352.0,485.0 L1354.0,485.6 L1356.0,487.0 L1358.0,490.6 L1360.0,493.8 L1362.0,495.9 L1364.0,498.3 L1366.0,501.9 L1368.0,505.5 L1370.0,509.2 L1372.0,514.0 L1374.0,518.3 L1376.0,519.3 L1378.0,519.3 L1380.0,519.5 L1382.0,519.8 L1384.0,520.1 L1386.0,520.5 L1388.0,519.9 L1390.0,517.4 L1392.0,515.3 L1394.0,514.7 L1396.0,513.6 L1398.0,512.4 L1400.0,510.4 L1402.0,506.8 L1404.0,502.7 L1406.0,498.9 L1408.0,496.1 L1410.0,493.8 L1412.0,490.7 L1414.0,483.6 L1416.0,473.3 L1418.0,469.5 L1420.0,468.2 L1422.0,465.7 L1424.0,460.8 L1426.0,455.2 L1428.0,449.5 L1430.0,445.1 L1432.0,441.8 L1434.0,438.6 L1436.0,435.1 L1438.0,433.6 L1440.0,432.9 L1442.0,433.1 L1444.0,435.2 L1446.0,439.9 L1448.0,444.9 L1450.0,449.5 L1452.0,454.1 L1454.0,459.6 L1456.0,464.7 L1458.0,469.2 L1460.0,473.4 L1462.0,478.2 L1464.0,485.7 L1466.0,495.6 L1468.0,507.1 L1470.0,519.6 L1472.0,530.6 L1474.0,537.7 L1476.0,542.4 L1478.0,546.7 L1480.0,550.6 L1482.0,554.5 L1484.0,558.3 L1486.0,561.1 L1488.0,562.8 L1490.0,564.8 L1492.0,567.6 L1494.0,570.5 L1496.0,573.4 L1498.0,575.6 L1500.0,576.8 L1502.0,575.9 L1504.0,573.6 L1506.0,571.3 L1508.0,569.3 L1510.0,567.0 L1512.0,566.2 L1514.0,567.7 L1516.0,569.9 L1518.0,571.3 L1520.0,571.7 L1522.0,571.3 L1524.0,570.8 L1526.0,569.6 L1528.0,568.2 L1530.0,566.2 L1532.0,563.0 L1534.0,558.8 L1536.0,554.3 L1538.0,550.3 L1540.0,547.1 L1542.0,544.5 L1544.0,541.6 L1546.0,538.7 L1548.0,535.7 L1550.0,531.5 L1552.0,526.5 L1554.0,522.1 L1556.0,518.8 L1558.0,517.6 L1560.0,520.4 L1562.0,524.1 L1564.0,527.6 L1566.0,530.7 L1568.0,533.6 L1570.0,536.0 L1572.0,538.6 L1574.0,541.2 L1576.0,542.5 L1578.0,543.6 L1580.0,546.5 L1582.0,548.6 L1584.0,549.5 L1586.0,552.4 L1588.0,557.1 L1590.0,561.8 L1592.0,565.9 L1594.0,569.0 L1596.0,571.8 L1598.0,574.5 L1600.0,577.8 L1602.0,580.4 L1604.0,580.5 L1606.0,580.0 L1608.0,579.0 L1610.0,577.8 L1612.0,578.8 L1614.0,581.5 L1616.0,584.4 L1618.0,587.8 L1620.0,590.8 L1622.0,592.5 L1624.0,593.6 L1626.0,594.8 L1628.0,596.8 L1630.0,599.0 L1632.0,600.1 L1634.0,600.1 L1636.0,600.5 L1638.0,602.1 L1640.0,604.2 L1642.0,605.6 L1644.0,606.9 L1646.0,608.7 L1648.0,611.3 L1650.0,613.6 L1652.0,615.5 L1654.0,617.9 L1656.0,620.5 L1658.0,623.2 L1660.0,625.4 L1662.0,627.0 L1664.0,628.8 L1666.0,630.1 L1668.0,631.5 L1670.0,631.8 L1672.0,630.1 L1674.0,628.8 L1676.0,627.3 L1678.0,625.2 L1680.0,624.0 L1682.0,623.5 L1684.0,623.0 L1686.0,623.0 L1688.0,622.9 L1690.0,622.6 L1692.0,622.8 L1694.0,622.7 L1696.0,622.3 L1698.0,620.9 L1700.0,619.3 L1702.0,619.2 L1704.0,619.4 L1706.0,618.6 L1708.0,618.4 L1710.0,620.4 L1712.0,623.6 L1714.0,626.1 L1716.0,629.0 L1718.0,633.1 L1720.0,636.7 L1722.0,641.3 L1724.0,646.5 L1726.0,650.9 L1728.0,655.2 L1730.0,659.9 L1732.0,664.7 L1734.0,669.7 L1736.0,674.4 L1738.0,678.6 L1740.0,682.6 L1742.0,685.4 L1744.0,687.8 L1746.0,689.1 L1748.0,689.4 L1750.0,689.2 L1752.0,688.5 L1754.0,687.9 L1756.0,689.6 L1758.0,691.6 L1760.0,692.6 L1762.0,692.9 L1764.0,691.8 L1766.0,689.6 L1768.0,688.6 L1770.0,689.5 L1772.0,690.7 L1774.0,691.0 L1776.0,691.4 L1778.0,692.6 L1780.0,694.3 L1782.0,696.6 L1784.0,699.9 L1786.0,702.8 L1788.0,704.2 L1790.0,706.0 L1792.0,709.0 L1794.0,711.9 L1796.0,714.2 L1798.0,714.7 L1800.0,714.2 L1802.0,714.9 L1804.0,716.7 L1806.0,718.6 L1808.0,720.2 L1810.0,721.6 L1812.0,721.8 L1814.0,721.7 L1816.0,721.3 L1818.0,719.8 L1820.0,719.7 L1822.0,721.2 L1824.0,721.4 L1826.0,720.0 L1828.0,718.5 L1830.0,718.0 L1832.0,719.0 L1834.0,720.5 L1836.0,722.4 L1838.0,722.3 L1840.0,720.7 L1842.0,719.6 L1844.0,719.6 L1846.0,719.2 L1848.0,717.2 L1850.0,715.1 L1852.0,713.5 L1854.0,711.1 L1856.0,708.8 L1858.0,706.9 L1860.0,703.7 L1862.0,700.4 L1864.0,698.3 L1866.0,695.8 L1868.0,691.8 L1870.0,687.7 L1872.0,683.4 L1874.0,677.7 L1876.0,672.4 L1878.0,668.0 L1880.0,664.0 L1882.0,661.7 L1884.0,661.3 L1886.0,660.5 L1888.0,660.6 L1890.0,662.3 L1892.0,663.6 L1894.0,665.2 L1896.0,669.0 L1898.0,673.1 L1900.0,677.3 L1902.0,682.4 L1904.0,687.2 L1906.0,691.9 L1908.0,696.6 L1910.0,700.6 L1912.0,704.5 L1914.0,708.3 L1916.0,711.2 L1918.0,712.6 L1920.0,713.4 L1922.0,714.6 L1924.0,716.1 L1926.0,718.2 L1928.0,720.2 L1930.0,721.8 L1932.0,723.7 L1934.0,726.2 L1936.0,728.2 L1938.0,729.4 L1940.0,730.3 L1942.0,731.9 L1944.0,733.5 L1946.0,734.1 L1948.0,734.5 L1950.0,735.5 L1952.0,735.4 L1954.0,735.3 L1956.0,737.1 L1958.0,739.3 L1960.0,740.5 L1962.0,740.9 L1964.0,740.8 L1966.0,741.5 L1968.0,742.8 L1970.0,741.8 L1972.0,739.0 L1974.0,736.0 L1976.0,731.8 L1978.0,727.6 L1980.0,722.5 L1982.0,717.1 L1984.0,713.8 L1986.0,710.5 L1988.0,704.9 L1990.0,699.0 L1992.0,693.9 L1994.0,690.4 L1996.0,687.3 L1998.0,684.8 L2000.0,683.2 L2002.0,683.0 L2004.0,683.5 L2006.0,684.0 L2008.0,685.5 L2010.0,687.8 L2012.0,690.3 L2014.0,694.2 L2016.0,698.8 L2018.0,704.3 L2020.0,712.0 L2022.0,720.3 L2024.0,728.9 L2026.0,738.7 L2028.0,749.8 L2030.0,762.3 L2032.0,773.2 L2034.0,781.0 L2036.0,787.7 L2038.0,795.0 L2040.0,804.8 L2042.0,813.8 L2044.0,821.3 L2046.0,828.9 L2048.0,832.9 L2050.0,834.9 L2052.0,837.4 L2054.0,840.3 L2056.0,844.1 L2058.0,847.9 L2060.0,851.6 L2062.0,854.7 L2064.0,856.0 L2066.0,857.2 L2068.0,858.3 L2070.0,859.5 L2072.0,861.7 L2074.0,863.5 L2076.0,864.5 L2078.0,865.9 L2080.0,867.6 L2082.0,869.9 L2084.0,872.3 L2086.0,873.8 L2088.0,874.9 L2090.0,876.0 L2092.0,876.9 L2094.0,877.7 L2096.0,878.3 L2098.0,879.0 L2100.0,879.9 L2102.0,881.2 L2104.0,882.4 L2106.0,883.6 L2108.0,884.7 L2110.0,885.8 L2112.0,886.8 L2114.0,886.9 L2116.0,887.3 L2118.0,887.8 L2120.0,887.6 L2122.0,887.2 L2124.0,887.5 L2126.0,889.7 L2128.0,891.8 L2130.0,893.5 L2132.0,895.3 L2134.0,896.9 L2136.0,897.7 L2138.0,897.8 L2140.0,898.1 L2142.0,898.0 L2144.0,898.0 L2146.0,899.2 L2148.0,900.3 L2150.0,901.0 L2152.0,901.9 L2154.0,903.4 L2156.0,905.4 L2158.0,907.2 L2160.0,908.3 L2162.0,909.4 L2164.0,910.9 L2166.0,912.2 L2168.0,911.9 L2170.0,911.2 L2172.0,911.4 L2174.0,912.2 L2176.0,912.7 L2178.0,913.9 L2180.0,916.5 L2182.0,918.4 L2184.0,919.2 L2186.0,920.5 L2188.0,920.9 L2190.0,920.8 L2192.0,920.0 L2194.0,918.9 L2196.0,919.0 L2198.0,920.5 L2200.0,921.6 L2202.0,921.7 L2204.0,922.4 L2206.0,923.5 L2208.0,924.4 L2210.0,924.7 L2212.0,925.0 L2214.0,925.8 L2216.0,926.2 L2218.0,926.3 L2220.0,926.8 L2222.0,927.9 L2224.0,930.1 L2226.0,932.1 L2228.0,933.5 L2230.0,933.6 L2232.0,932.8 L2234.0,933.3 L2236.0,934.0 L2238.0,933.4 L2240.0,933.1 L2242.0,933.4 L2244.0,933.8 L2246.0,934.0 L2248.0,934.1 L2250.0,935.3 L2252.0,936.4 L2254.0,937.1 L2256.0,938.0 L2258.0,939.4 L2260.0,940.2 L2262.0,939.6 L2264.0,939.8 L2266.0,940.4 L2268.0,940.0 L2274.0,940.0" stroke="#6aab40" stroke-width="9.5"/>
</g>
<g stroke="#767171" stroke-width="3.8" stroke-dasharray="13.4 9.27" fill="none">
<line x1="649.3" y1="331.4" x2="649.3" y2="1583.7"/>
<line x1="1031.2" y1="428.3" x2="1030.3" y2="1593"/>
<line x1="1343.5" y1="480.6" x2="1343.6" y2="1582.8"/>
<line x1="1441.0" y1="446.6" x2="1440.3" y2="1584.3"/>
<line x1="1883.1" y1="659.9" x2="1889.0" y2="1593"/>
<line x1="2006.2" y1="689.0" x2="2011.7" y2="1585.5"/>
</g>
<g stroke-width="10.4" stroke-linecap="round" fill="none">
<line x1="1792.6" y1="116.5" x2="1920.8" y2="116.5" stroke="#6aab40"/>
<line x1="1792.6" y1="230.1" x2="1920.8" y2="230.1" stroke="#3d68c0"/>
<line x1="1792.6" y1="343.4" x2="1920.8" y2="343.4" stroke="#ffbd00"/>
<line x1="1792.6" y1="459.4" x2="1920.8" y2="459.4" stroke="#39601f"/>
</g>
<text font-size="56.5" fill="#1a1a1a"><tspan x="132.3" y="1680.6" textLength="86.9" lengthAdjust="spacingAndGlyphs">500</tspan></text>
<text font-size="56.5" fill="#1a1a1a"><tspan x="450.4" y="1680.6" textLength="88.4" lengthAdjust="spacingAndGlyphs">700</tspan></text>
<text font-size="56.5" fill="#1a1a1a"><tspan x="771.6" y="1680.6" textLength="90.4" lengthAdjust="spacingAndGlyphs">900</tspan></text>
<text font-size="56.5" fill="#1a1a1a"><tspan x="1077.2" y="1680.6" textLength="116.8" lengthAdjust="spacingAndGlyphs">1100</tspan></text>
<text font-size="56.5" fill="#1a1a1a"><tspan x="1400.2" y="1680.6" textLength="116.6" lengthAdjust="spacingAndGlyphs">1300</tspan></text>
<text font-size="56.5" fill="#1a1a1a"><tspan x="1720.4" y="1680.6" textLength="116.4" lengthAdjust="spacingAndGlyphs">1500</tspan></text>
<text font-size="56.5" fill="#1a1a1a"><tspan x="2041.9" y="1680.6" textLength="117.6" lengthAdjust="spacingAndGlyphs">1700</tspan></text>
<text font-size="62.2" fill="#000000" stroke="#ffffff" stroke-width="0.5" stroke-linejoin="round"><tspan x="595.0" y="290.1" textLength="108.6" lengthAdjust="spacingAndGlyphs">798</tspan></text>
<text font-size="62.5" fill="#000000" stroke="#ffffff" stroke-width="0.5" stroke-linejoin="round"><tspan x="923.4" y="370.9" textLength="141.9" lengthAdjust="spacingAndGlyphs">1030</tspan></text>
<text font-size="62.5" fill="#000000" stroke="#ffffff" stroke-width="0.5" stroke-linejoin="round"><tspan x="1242.9" y="455.2" textLength="142.1" lengthAdjust="spacingAndGlyphs">1226</tspan></text>
<text font-size="62.5" fill="#000000" stroke="#ffffff" stroke-width="0.5" stroke-linejoin="round"><tspan x="1381.3" y="396.8" textLength="142.7" lengthAdjust="spacingAndGlyphs">1288</tspan></text>
<text font-size="62.6" fill="#000000" stroke="#ffffff" stroke-width="0.5" stroke-linejoin="round"><tspan x="1800.8" y="620.3" textLength="141.8" lengthAdjust="spacingAndGlyphs">1564</tspan></text>
<text font-size="62.6" fill="#000000" stroke="#ffffff" stroke-width="0.5" stroke-linejoin="round"><tspan x="1949.6" y="636.3" textLength="142.8" lengthAdjust="spacingAndGlyphs">1636</tspan></text>
<text font-size="66.5" fill="#000000"><tspan x="2194.5" y="866.0" textLength="71.5" lengthAdjust="spacingAndGlyphs">(a)</tspan></text>
<text font-size="66.5" fill="#000000"><tspan x="2195.3" y="1062.9" textLength="73.2" lengthAdjust="spacingAndGlyphs">(b)</tspan></text>
<text font-size="66.5" fill="#000000"><tspan x="2189.3" y="1390.0" textLength="66.5" lengthAdjust="spacingAndGlyphs">(c)</tspan></text>
<text font-size="66.5" fill="#000000"><tspan x="2189.2" y="1510.4" textLength="72.9" lengthAdjust="spacingAndGlyphs">(d)</tspan></text>
<text font-size="58" fill="#595959" stroke="#ffffff" stroke-width="0.3" stroke-linejoin="round"><tspan x="1936.2" y="134.5" textLength="67.2" lengthAdjust="spacingAndGlyphs">(a)</tspan> <tspan x="2016.6" y="134.5" textLength="183.8" lengthAdjust="spacingAndGlyphs">2 bases</tspan> <tspan x="2210.2" y="134.5" textLength="77.5" lengthAdjust="spacingAndGlyphs">(fr)</tspan></text>
<text font-size="58" fill="#595959" stroke="#ffffff" stroke-width="0.3" stroke-linejoin="round"><tspan x="1936.1" y="247.0" textLength="69.9" lengthAdjust="spacingAndGlyphs">(b)</tspan> <tspan x="2016.5" y="247.0" textLength="187.3" lengthAdjust="spacingAndGlyphs">2 bases</tspan> <tspan x="2213.2" y="247.0" textLength="81.5" lengthAdjust="spacingAndGlyphs">(rt)</tspan></text>
<text font-size="58" fill="#595959" stroke="#ffffff" stroke-width="0.3" stroke-linejoin="round"><tspan x="1935.9" y="363.0" textLength="63.8" lengthAdjust="spacingAndGlyphs">(c)</tspan> <tspan x="2013.9" y="363.0" textLength="182.3" lengthAdjust="spacingAndGlyphs">4 bases</tspan> <tspan x="2208.4" y="363.0" textLength="75.8" lengthAdjust="spacingAndGlyphs">(fr)</tspan></text>
<text font-size="58" fill="#595959" stroke="#ffffff" stroke-width="0.3" stroke-linejoin="round"><tspan x="1935.8" y="476.8" textLength="70.3" lengthAdjust="spacingAndGlyphs">(d)</tspan> <tspan x="2016.9" y="476.8" textLength="186.9" lengthAdjust="spacingAndGlyphs">4 bases</tspan> <tspan x="2215.3" y="476.8" textLength="77.7" lengthAdjust="spacingAndGlyphs">(rt)</tspan></text>
<text font-size="72.7" fill="#000000" stroke="#000000" stroke-width="1.2" stroke-linejoin="round" transform="translate(122.1 1209.6) rotate(-90)"><tspan x="-4.3" y="-0.6" textLength="206.6" lengthAdjust="spacingAndGlyphs">Raman</tspan> <tspan x="221.2" y="-0.6" textLength="252.1" lengthAdjust="spacingAndGlyphs">intensity</tspan> <tspan x="495.9" y="-0.6" textLength="161.1" lengthAdjust="spacingAndGlyphs">[a.u.]</tspan></text>
<text font-size="72.7" fill="#000000" stroke="#000000" stroke-width="1.2" stroke-linejoin="round"><tspan x="957.2" y="1819.5" textLength="210.2" lengthAdjust="spacingAndGlyphs">Raman</tspan> <tspan x="1184.6" y="1819.5" textLength="127.9" lengthAdjust="spacingAndGlyphs">shift</tspan> <tspan x="1332.8" y="1819.5" textLength="115.5" lengthAdjust="spacingAndGlyphs">[cm</tspan><tspan x="1446.5" y="1800.1" textLength="51.8" lengthAdjust="spacingAndGlyphs" font-size="45.1">−1</tspan><tspan x="1503.7" y="1819.5" textLength="21.1" lengthAdjust="spacingAndGlyphs">]</tspan></text>
</svg></body></html>
